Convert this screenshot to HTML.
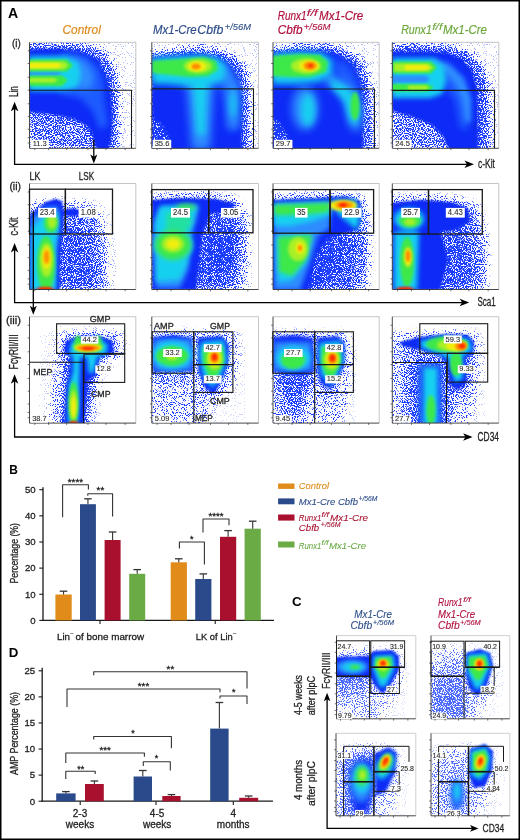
<!DOCTYPE html>
<html><head><meta charset="utf-8"><style>
html,body{margin:0;padding:0;background:#fff;}
svg{display:block;will-change:transform;}
text{font-family:"Liberation Sans", sans-serif;}
</style></head><body>
<svg width="520" height="840" viewBox="0 0 520 840">
<defs>
<clipPath id="cp0"><rect x="29.5" y="42.3" width="106.30000000000001" height="106.00000000000001"/></clipPath>
<filter id="spk" x="0" y="0" width="100%" height="100%" color-interpolation-filters="sRGB">
<feColorMatrix in="SourceGraphic" type="matrix" values="0 0 0 0 0  0 0 0 0 0  0 0 0 0 0  -1 0 0 0 1" result="dens"/>
<feTurbulence type="fractalNoise" baseFrequency="0.9" numOctaves="1" seed="7" result="n"/>
<feColorMatrix in="n" type="matrix" values="0 0 0 0 0  0 0 0 0 0  0 0 0 0 0  3.2 0 0 0 -1.1" result="na"/>
<feComposite in="dens" in2="na" operator="arithmetic" k1="0" k2="1" k3="-1" k4="0" result="diff"/>
<feComponentTransfer in="diff" result="th"><feFuncA type="linear" slope="5" intercept="0"/></feComponentTransfer>
<feFlood flood-color="#1a3cff" result="col"/>
<feComposite in="col" in2="th" operator="in"/>
</filter>
<filter id="bl0" x="-50%" y="-50%" width="200%" height="200%"><feGaussianBlur stdDeviation="3.38"/></filter>
<filter id="bl1" x="-50%" y="-50%" width="200%" height="200%"><feGaussianBlur stdDeviation="1.2"/></filter>
<filter id="bl2" x="-50%" y="-50%" width="200%" height="200%"><feGaussianBlur stdDeviation="3"/></filter>
<filter id="bl3" x="-50%" y="-50%" width="200%" height="200%"><feGaussianBlur stdDeviation="2.5"/></filter>
<filter id="bl4" x="-50%" y="-50%" width="200%" height="200%"><feGaussianBlur stdDeviation="1.5"/></filter>
<clipPath id="cp1"><rect x="151.8" y="42.3" width="106.69999999999999" height="106.00000000000001"/></clipPath>
<filter id="bl5" x="-50%" y="-50%" width="200%" height="200%"><feGaussianBlur stdDeviation="3.5"/></filter>
<filter id="bl6" x="-50%" y="-50%" width="200%" height="200%"><feGaussianBlur stdDeviation="4"/></filter>
<clipPath id="cp2"><rect x="273.0" y="42.3" width="106.19999999999999" height="106.00000000000001"/></clipPath>
<filter id="bl7" x="-50%" y="-50%" width="200%" height="200%"><feGaussianBlur stdDeviation="1.8"/></filter>
<filter id="bl8" x="-50%" y="-50%" width="200%" height="200%"><feGaussianBlur stdDeviation="1.6"/></filter>
<clipPath id="cp3"><rect x="392.3" y="42.3" width="106.5" height="106.00000000000001"/></clipPath>
<clipPath id="cp4"><rect x="29.5" y="183.5" width="106.30000000000001" height="106.0"/></clipPath>
<filter id="bl9" x="-50%" y="-50%" width="200%" height="200%"><feGaussianBlur stdDeviation="4.05"/></filter>
<filter id="bl10" x="-50%" y="-50%" width="200%" height="200%"><feGaussianBlur stdDeviation="2"/></filter>
<filter id="bl11" x="-50%" y="-50%" width="200%" height="200%"><feGaussianBlur stdDeviation="1"/></filter>
<clipPath id="cp5"><rect x="151.8" y="183.5" width="106.69999999999999" height="106.0"/></clipPath>
<clipPath id="cp6"><rect x="273.0" y="183.5" width="106.19999999999999" height="106.0"/></clipPath>
<filter id="bl12" x="-50%" y="-50%" width="200%" height="200%"><feGaussianBlur stdDeviation="1.4"/></filter>
<clipPath id="cp7"><rect x="392.3" y="183.5" width="106.5" height="106.0"/></clipPath>
<clipPath id="cp8"><rect x="29.5" y="316.7" width="106.30000000000001" height="106.40000000000003"/></clipPath>
<filter id="spkL" x="0" y="0" width="100%" height="100%" color-interpolation-filters="sRGB">
<feColorMatrix in="SourceGraphic" type="matrix" values="0 0 0 0 0  0 0 0 0 0  0 0 0 0 0  -1 0 0 0 1" result="dens"/>
<feTurbulence type="fractalNoise" baseFrequency="0.9" numOctaves="1" seed="7" result="n"/>
<feColorMatrix in="n" type="matrix" values="0 0 0 0 0  0 0 0 0 0  0 0 0 0 0  3.2 0 0 0 -1.1" result="na"/>
<feComposite in="dens" in2="na" operator="arithmetic" k1="0" k2="1" k3="-1" k4="0" result="diff"/>
<feComponentTransfer in="diff" result="th"><feFuncA type="linear" slope="5" intercept="0"/></feComponentTransfer>
<feFlood flood-color="#1a3cff" result="col"/>
<feComposite in="col" in2="th" operator="in"/>
</filter>
<filter id="bl13" x="-50%" y="-50%" width="200%" height="200%"><feGaussianBlur stdDeviation="2.7"/></filter>
<clipPath id="cp9"><rect x="151.8" y="316.7" width="106.69999999999999" height="106.40000000000003"/></clipPath>
<clipPath id="cp10"><rect x="273.0" y="316.7" width="106.19999999999999" height="106.40000000000003"/></clipPath>
<clipPath id="cp11"><rect x="392.3" y="316.7" width="106.5" height="106.40000000000003"/></clipPath>
<clipPath id="cp12"><rect x="336.5" y="635.6" width="79.30000000000001" height="83.19999999999993"/></clipPath>
<filter id="spkC" x="0" y="0" width="100%" height="100%" color-interpolation-filters="sRGB">
<feColorMatrix in="SourceGraphic" type="matrix" values="0 0 0 0 0  0 0 0 0 0  0 0 0 0 0  -1 0 0 0 1" result="dens"/>
<feTurbulence type="fractalNoise" baseFrequency="0.9" numOctaves="1" seed="7" result="n"/>
<feColorMatrix in="n" type="matrix" values="0 0 0 0 0  0 0 0 0 0  0 0 0 0 0  3.2 0 0 0 -1.1" result="na"/>
<feComposite in="dens" in2="na" operator="arithmetic" k1="0" k2="1" k3="-1" k4="0" result="diff"/>
<feComponentTransfer in="diff" result="th"><feFuncA type="linear" slope="5" intercept="0"/></feComponentTransfer>
<feFlood flood-color="#4868ff" result="col"/>
<feComposite in="col" in2="th" operator="in"/>
</filter>
<filter id="bl14" x="-50%" y="-50%" width="200%" height="200%"><feGaussianBlur stdDeviation="1.3"/></filter>
<clipPath id="cp13"><rect x="431.0" y="635.6" width="78.80000000000001" height="83.19999999999993"/></clipPath>
<clipPath id="cp14"><rect x="336.0" y="733.3" width="79.80000000000001" height="82.5"/></clipPath>
<clipPath id="cp15"><rect x="431.0" y="733.3" width="78.80000000000001" height="82.5"/></clipPath>
</defs>
<rect x="0" y="0" width="520" height="840" fill="#fff"/>
<g clip-path="url(#cp0)">
<g filter="url(#spk)">
<rect x="29.5" y="42.3" width="106.30000000000001" height="106.00000000000001" fill="#fff"/>
<g>
<rect x="29.6" y="42" width="110" height="110" fill="rgb(238,238,238)"/>
</g>
<g filter="url(#bl0)">
<polygon points="29.0,43.0 70.0,43.0 96.0,47.0 110.0,56.0 116.0,75.0 119.0,100.0 119.0,130.0 117.0,150.0 29.0,150.0" fill="rgb(92,92,92)"/>
</g>
<g filter="url(#bl0)">
<polygon points="29.0,46.0 70.0,46.0 98.0,52.0 108.0,64.0 113.0,80.0 115.0,110.0 114.0,150.0 96.0,150.0 88.0,130.0 72.0,121.0 50.0,117.0 29.0,115.0" fill="rgb(52,52,52)"/>
</g>
</g>
<g filter="url(#bl1)">
<polygon points="29.0,49.5 60.0,49.0 81.0,51.6 97.8,59.0 106.3,76.0 110.5,93.0 112.6,114.0 111.6,135.0 108.4,150.0 97.0,150.0 90.0,128.0 75.0,119.0 50.0,114.0 29.0,112.0" fill="#0b2af6"/>
</g>
<g filter="url(#bl2)">
<polygon points="62.0,52.0 85.0,56.0 98.0,66.0 104.0,82.0 104.0,100.0 108.0,125.0 100.0,130.0 92.0,110.0 80.0,98.0 60.0,94.0" fill="#1f5cff"/>
</g>
<g filter="url(#bl2)">
<polygon points="70.0,56.0 86.0,62.0 94.0,75.0 92.0,88.0 80.0,90.0 72.0,80.0" fill="#2f8cff"/>
</g>
<g filter="url(#bl3)">
<polygon points="29.0,56.0 66.0,56.0 78.0,62.0 81.0,75.0 77.0,88.0 60.0,91.0 29.0,91.0" fill="#18d0f0"/>
</g>
<g filter="url(#bl4)">
<polygon points="29.0,72.0 58.0,72.0 62.0,73.5 58.0,75.5 29.0,75.5" fill="#2f8cff"/>
</g>
<g filter="url(#bl1)">
<polygon points="29.0,59.5 67.0,59.5 73.0,65.5 67.0,71.5 29.0,71.5" fill="#3ee84a"/>
<polygon points="29.0,75.5 62.0,75.5 68.0,80.0 62.0,86.0 29.0,86.0" fill="#3ee84a"/>
</g>
<g filter="url(#bl1)">
<polygon points="29.0,61.5 64.0,61.5 69.0,65.5 64.0,69.5 29.0,69.5" fill="#a8f028"/>
</g>
<g filter="url(#bl1)">
<polygon points="29.0,63.0 58.0,63.0 62.0,65.5 58.0,68.0 29.0,68.0" fill="#f2ee10"/>
</g>
<g filter="url(#bl1)">
<polygon points="29.0,78.0 54.0,78.0 58.0,80.2 54.0,82.5 29.0,82.5" fill="#a8f028"/>
</g>
</g>
<g clip-path="url(#cp1)">
<g filter="url(#spk)">
<rect x="151.8" y="42.3" width="106.69999999999999" height="106.00000000000001" fill="#fff"/>
<g>
<rect x="151" y="42" width="110" height="110" fill="rgb(238,238,238)"/>
</g>
<g filter="url(#bl0)">
<polygon points="152.0,53.0 170.0,51.0 200.0,47.0 222.0,51.0 238.0,59.0 247.0,72.0 250.0,90.0 251.0,150.0 152.0,150.0" fill="rgb(92,92,92)"/>
</g>
<g filter="url(#bl0)">
<polygon points="152.0,56.0 170.0,54.0 200.0,51.0 222.0,55.0 236.0,63.0 244.0,76.0 246.0,92.0 247.0,150.0 152.0,150.0" fill="rgb(52,52,52)"/>
</g>
<g filter="url(#bl0)">
<polygon points="145.0,90.0 185.0,95.0 190.0,155.0 145.0,155.0" fill="rgb(16,16,16)"/>
</g>
</g>
<g filter="url(#bl4)">
<polygon points="152.0,56.5 171.0,55.5 192.3,53.0 205.0,53.5 219.8,58.0 230.4,65.4 236.7,73.8 241.0,86.5 242.0,103.5 242.0,150.0 172.0,150.0 166.0,132.0 159.0,122.0 152.0,118.0" fill="#0b2af6"/>
</g>
<g filter="url(#bl5)">
<polygon points="215.0,60.0 232.0,70.0 238.0,90.0 236.0,130.0 228.0,130.0 222.0,90.0 210.0,80.0" fill="#1f5cff"/>
</g>
<g filter="url(#bl6)">
<polygon points="186.0,80.0 214.0,80.0 210.0,150.0 192.0,150.0" fill="#2f8cff"/>
<polygon points="227.0,80.0 239.0,82.0 239.0,128.0 229.0,128.0" fill="#2f8cff"/>
<polygon points="215.0,62.0 228.0,68.0 236.0,82.0 232.0,92.0 222.0,82.0" fill="#2f8cff"/>
</g>
<g filter="url(#bl2)">
<polygon points="152.0,58.0 200.0,55.0 218.0,58.0 226.0,66.0 224.0,80.0 205.0,87.0 185.0,86.0 165.0,84.0 152.0,84.0" fill="#18d0f0"/>
<polygon points="193.0,86.0 207.0,86.0 205.0,135.0 197.0,135.0" fill="#18d0f0"/>
<ellipse cx="233" cy="104" rx="3" ry="14" fill="#18d0f0"/>
</g>
<g filter="url(#bl4)">
<polygon points="152.0,61.0 180.0,59.0 205.0,57.0 216.0,61.0 218.0,70.0 208.0,76.0 190.0,77.0 170.0,75.0 152.0,73.0" fill="#3ee84a"/>
</g>
<g filter="url(#bl4)">
<ellipse cx="198" cy="66.3" rx="14" ry="7" fill="#a8f028"/>
</g>
<g filter="url(#bl1)">
<ellipse cx="197" cy="66.4" rx="9" ry="5" fill="#f2ee10"/>
</g>
<g filter="url(#bl1)">
<ellipse cx="196" cy="66.4" rx="4.5" ry="3" fill="#ff8c00"/>
</g>
</g>
<g clip-path="url(#cp2)">
<g filter="url(#spk)">
<rect x="273.0" y="42.3" width="106.19999999999999" height="106.00000000000001" fill="#fff"/>
<g>
<rect x="272.8" y="42" width="110" height="110" fill="rgb(238,238,238)"/>
</g>
<g filter="url(#bl0)">
<polygon points="272.0,49.0 300.0,46.0 325.0,45.0 345.0,49.0 362.0,60.0 370.0,80.0 373.0,110.0 373.0,150.0 272.0,150.0" fill="rgb(92,92,92)"/>
</g>
<g filter="url(#bl0)">
<polygon points="272.0,51.0 300.0,49.0 325.0,48.0 342.0,52.0 358.0,62.0 366.0,82.0 368.0,110.0 368.0,150.0 272.0,150.0" fill="rgb(52,52,52)"/>
</g>
<g filter="url(#bl0)">
<polygon points="265.0,85.0 310.0,95.0 315.0,155.0 265.0,155.0" fill="rgb(16,16,16)"/>
</g>
</g>
<g filter="url(#bl4)">
<polygon points="272.0,52.7 301.7,50.6 322.9,50.6 339.8,54.8 354.6,65.4 361.0,82.3 363.0,103.5 363.0,150.0 292.0,150.0 286.0,134.0 279.0,122.0 272.0,118.0" fill="#0b2af6"/>
</g>
<g filter="url(#bl6)">
<polygon points="330.0,60.0 345.0,62.0 355.0,75.0 360.0,95.0 352.0,100.0 340.0,80.0" fill="#1f5cff"/>
</g>
<g filter="url(#bl6)">
<ellipse cx="305" cy="108" rx="13" ry="22" fill="#2f8cff"/>
<polygon points="325.0,72.0 340.0,78.0 355.0,90.0 362.0,110.0 360.0,132.0 350.0,128.0 346.0,105.0 335.0,88.0 322.0,82.0" fill="#2f8cff"/>
</g>
<g filter="url(#bl2)">
<polygon points="272.0,54.0 300.0,52.0 322.0,53.0 332.0,60.0 332.0,74.0 318.0,82.0 295.0,84.0 272.0,84.0" fill="#18d0f0"/>
<ellipse cx="308" cy="110" rx="7" ry="16" fill="#18d0f0"/>
<polygon points="330.0,78.0 345.0,86.0 356.0,96.0 360.0,112.0 356.0,126.0 349.0,120.0 344.0,100.0 332.0,88.0" fill="#18d0f0"/>
</g>
<g filter="url(#bl7)">
<polygon points="272.0,56.0 300.0,54.0 320.0,55.0 328.0,62.0 326.0,72.0 310.0,77.0 290.0,77.0 272.0,76.0" fill="#3ee84a"/>
<ellipse cx="355" cy="106" rx="4.5" ry="14" fill="#3ee84a"/>
</g>
<g filter="url(#bl8)">
<ellipse cx="306" cy="66" rx="15" ry="7.5" fill="#a8f028"/>
</g>
<g filter="url(#bl4)">
<ellipse cx="309" cy="65.8" rx="10" ry="5.5" fill="#f2ee10"/>
</g>
<g filter="url(#bl1)">
<ellipse cx="310" cy="65.8" rx="6.5" ry="4.2" fill="#ff8c00"/>
</g>
<g filter="url(#bl1)">
<ellipse cx="310.5" cy="65.8" rx="2.6" ry="1.8" fill="#ff2800"/>
</g>
</g>
<g clip-path="url(#cp3)">
<g filter="url(#spk)">
<rect x="392.3" y="42.3" width="106.5" height="106.00000000000001" fill="#fff"/>
<g>
<rect x="392.6" y="42" width="110" height="110" fill="rgb(238,238,238)"/>
</g>
<g filter="url(#bl0)">
<polygon points="392.0,45.0 420.0,44.0 450.0,46.0 470.0,52.0 482.0,65.0 489.0,85.0 491.0,110.0 491.0,150.0 392.0,150.0" fill="rgb(92,92,92)"/>
</g>
<g filter="url(#bl0)">
<polygon points="392.0,48.0 420.0,47.0 450.0,49.0 468.0,55.0 478.0,68.0 484.0,86.0 485.0,110.0 485.0,150.0 450.0,150.0 440.0,132.0 428.0,122.0 410.0,114.0 392.0,110.0" fill="rgb(52,52,52)"/>
</g>
</g>
<g filter="url(#bl1)">
<polygon points="392.0,51.6 421.7,51.6 447.0,52.7 462.0,59.0 472.5,71.7 476.7,86.5 477.8,103.5 477.8,150.0 449.0,150.0 443.0,136.0 432.3,125.0 411.0,116.0 392.0,111.0" fill="#0b2af6"/>
</g>
<g filter="url(#bl5)">
<polygon points="440.0,70.0 458.0,78.0 468.0,100.0 468.0,130.0 460.0,128.0 455.0,100.0 445.0,88.0 436.0,84.0" fill="#1f5cff"/>
</g>
<g filter="url(#bl3)">
<polygon points="432.0,58.0 450.0,64.0 464.0,78.0 471.0,98.0 471.0,122.0 465.0,122.0 462.0,100.0 455.0,84.0 443.0,72.0 432.0,68.0" fill="#2f8cff"/>
</g>
<g filter="url(#bl3)">
<polygon points="392.0,58.0 432.0,58.0 444.0,66.0 446.0,80.0 442.0,94.0 430.0,98.0 392.0,98.0" fill="#18d0f0"/>
</g>
<g filter="url(#bl7)">
<polygon points="392.0,75.5 426.0,75.5 430.0,79.0 426.0,82.5 392.0,82.5" fill="#2f8cff"/>
</g>
<g filter="url(#bl1)">
<polygon points="392.0,61.5 431.0,61.5 437.0,67.5 431.0,73.5 392.0,73.5" fill="#3ee84a"/>
<polygon points="392.0,84.0 428.0,84.0 434.0,87.6 428.0,91.5 392.0,91.5" fill="#3ee84a"/>
</g>
<g filter="url(#bl1)">
<polygon points="394.0,63.5 428.0,63.5 434.0,67.5 428.0,71.5 394.0,71.5" fill="#a8f028"/>
</g>
<g filter="url(#bl1)">
<polygon points="405.0,65.0 426.0,65.0 430.0,67.5 426.0,70.0 405.0,70.0" fill="#f2ee10"/>
</g>
<g filter="url(#bl1)">
<polygon points="408.0,85.5 426.0,85.5 429.0,87.6 426.0,89.8 408.0,89.8" fill="#a8f028"/>
</g>
</g>
<g clip-path="url(#cp4)">
<g filter="url(#spk)">
<rect x="29.5" y="183.5" width="106.30000000000001" height="106.0" fill="#fff"/>
<g>
<polygon points="29.0,200.0 60.0,196.0 100.0,200.0 112.0,215.0 116.0,250.0 116.0,290.0 29.0,290.0" fill="rgb(238,238,238)"/>
</g>
<g filter="url(#bl9)">
<polygon points="36.0,204.0 85.0,205.0 98.0,214.0 104.0,240.0 106.0,290.0 29.0,290.0 29.0,210.0" fill="rgb(92,92,92)"/>
</g>
<g filter="url(#bl9)">
<polygon points="60.0,222.0 78.0,226.0 88.0,245.0 94.0,270.0 96.0,290.0 60.0,290.0" fill="rgb(52,52,52)"/>
</g>
</g>
<g filter="url(#bl1)">
<polygon points="29.0,216.0 36.0,210.0 46.0,202.0 55.0,199.0 62.0,201.0 64.0,215.0 62.0,235.0 60.0,260.0 60.0,290.0 29.0,290.0" fill="#0b2af6"/>
<ellipse cx="72" cy="212.5" rx="9" ry="4" fill="#0b2af6"/>
</g>
<g filter="url(#bl10)">
<polygon points="31.0,218.0 46.0,207.0 58.0,206.0 60.0,222.0 57.0,245.0 56.0,290.0 31.0,290.0" fill="#2f8cff"/>
</g>
<g filter="url(#bl10)">
<polygon points="32.0,228.0 45.0,214.0 58.0,212.0 58.0,232.0 55.0,250.0 55.0,290.0 32.0,290.0" fill="#18d0f0"/>
</g>
<g filter="url(#bl7)">
<ellipse cx="51" cy="223" rx="7" ry="10" fill="#3ee84a"/>
<ellipse cx="46" cy="264" rx="9" ry="28" fill="#3ee84a"/>
</g>
<g filter="url(#bl8)">
<ellipse cx="52" cy="222" rx="4.5" ry="6.5" fill="#a8f028"/>
<ellipse cx="46.5" cy="260" rx="6.5" ry="17" fill="#a8f028"/>
</g>
<g filter="url(#bl4)">
<ellipse cx="46.6" cy="258" rx="4.5" ry="11" fill="#f2ee10"/>
</g>
<g filter="url(#bl4)">
<ellipse cx="46.6" cy="257" rx="2.8" ry="7" fill="#ff8c00"/>
</g>
<g filter="url(#bl11)">
<ellipse cx="45" cy="289" rx="9" ry="2.2" fill="#ff2800"/>
</g>
</g>
<g clip-path="url(#cp5)">
<g filter="url(#spk)">
<rect x="151.8" y="183.5" width="106.69999999999999" height="106.0" fill="#fff"/>
<g>
<polygon points="152.0,194.0 200.0,192.0 240.0,196.0 252.0,215.0 252.0,290.0 152.0,290.0" fill="rgb(238,238,238)"/>
</g>
<g filter="url(#bl9)">
<polygon points="152.0,197.0 200.0,195.0 235.0,199.0 245.0,220.0 246.0,250.0 242.0,290.0 152.0,290.0" fill="rgb(92,92,92)"/>
</g>
<g filter="url(#bl9)">
<polygon points="185.0,212.0 230.0,214.0 238.0,240.0 234.0,262.0 228.0,290.0 185.0,290.0" fill="rgb(52,52,52)"/>
</g>
<g filter="url(#bl0)">
<polygon points="205.0,238.0 232.0,236.0 236.0,262.0 220.0,270.0 205.0,262.0" fill="rgb(16,16,16)"/>
</g>
</g>
<g filter="url(#bl1)">
<polygon points="152.0,200.0 180.0,198.0 215.0,199.0 236.0,204.0 228.0,212.0 210.0,214.0 202.0,235.0 196.0,290.0 152.0,290.0" fill="#0b2af6"/>
</g>
<g filter="url(#bl3)">
<polygon points="160.0,208.0 198.0,206.0 196.0,220.0 190.0,240.0 188.0,270.0 180.0,288.0 156.0,288.0 154.0,225.0" fill="#2f8cff"/>
</g>
<g filter="url(#bl3)">
<polygon points="160.0,206.0 198.0,205.0 194.0,218.0 190.0,232.0 188.0,262.0 180.0,280.0 156.0,282.0 155.0,222.0" fill="#18d0f0"/>
<ellipse cx="173" cy="245" rx="20" ry="18" fill="#18d0f0"/>
</g>
<g filter="url(#bl3)">
<polygon points="166.0,213.0 188.0,209.0 192.0,222.0 186.0,232.0 166.0,232.0" fill="#20e0a0"/>
</g>
<g filter="url(#bl3)">
<ellipse cx="186" cy="207" rx="10" ry="3" fill="#3ee84a"/>
<ellipse cx="173" cy="245" rx="18" ry="15" fill="#3ee84a"/>
</g>
<g filter="url(#bl7)">
<ellipse cx="173" cy="244" rx="11" ry="8.5" fill="#a8f028"/>
</g>
<g filter="url(#bl4)">
<ellipse cx="173" cy="244" rx="6.5" ry="5" fill="#f2ee10"/>
</g>
</g>
<g clip-path="url(#cp6)">
<g filter="url(#spk)">
<rect x="273.0" y="183.5" width="106.19999999999999" height="106.0" fill="#fff"/>
<g>
<polygon points="272.0,195.0 330.0,192.0 365.0,196.0 372.0,215.0 372.0,290.0 272.0,290.0" fill="rgb(238,238,238)"/>
</g>
<g filter="url(#bl9)">
<polygon points="272.0,197.0 330.0,195.0 362.0,198.0 368.0,225.0 368.0,260.0 364.0,290.0 272.0,290.0" fill="rgb(92,92,92)"/>
</g>
<g filter="url(#bl9)">
<polygon points="300.0,230.0 345.0,228.0 356.0,245.0 354.0,290.0 300.0,290.0" fill="rgb(52,52,52)"/>
</g>
<g filter="url(#bl0)">
<polygon points="305.0,232.0 340.0,232.0 338.0,260.0 320.0,290.0 305.0,290.0" fill="rgb(16,16,16)"/>
</g>
</g>
<g filter="url(#bl1)">
<polygon points="272.0,200.0 320.0,198.0 345.0,196.0 360.0,201.0 362.0,215.0 358.0,230.0 345.0,233.0 328.0,238.0 316.0,255.0 308.0,290.0 272.0,290.0" fill="#0b2af6"/>
</g>
<g filter="url(#bl3)">
<polygon points="274.0,204.0 330.0,202.0 330.0,228.0 318.0,236.0 310.0,262.0 300.0,290.0 274.0,290.0" fill="#2f8cff"/>
</g>
<g filter="url(#bl3)">
<polygon points="274.0,204.0 330.0,202.0 331.0,215.0 310.0,222.0 290.0,226.0 274.0,226.0" fill="#18d0f0"/>
<polygon points="276.0,236.0 312.0,234.0 306.0,262.0 292.0,280.0 278.0,282.0" fill="#18d0f0"/>
<polygon points="332.0,200.0 356.0,200.0 360.0,215.0 357.0,230.0 350.0,224.0 338.0,214.0" fill="#18d0f0"/>
</g>
<g filter="url(#bl10)">
<polygon points="274.0,205.0 330.0,203.0 329.0,212.0 300.0,215.0 274.0,215.0" fill="#3ee84a"/>
<polygon points="278.0,237.0 312.0,235.0 306.0,260.0 292.0,276.0 279.0,272.0" fill="#3ee84a"/>
</g>
<g filter="url(#bl7)">
<ellipse cx="298" cy="249" rx="10" ry="12" fill="#a8f028"/>
</g>
<g filter="url(#bl4)">
<ellipse cx="300" cy="248" rx="4.5" ry="6" fill="#f2ee10"/>
</g>
<g filter="url(#bl1)">
<ellipse cx="300" cy="248" rx="2.2" ry="3" fill="#ff8c00"/>
</g>
<g filter="url(#bl7)">
<ellipse cx="343" cy="205.5" rx="14" ry="5.5" fill="#f2ee10"/>
</g>
<g filter="url(#bl12)">
<ellipse cx="344" cy="205" rx="9" ry="3.6" fill="#ff8c00"/>
</g>
<g filter="url(#bl1)">
<ellipse cx="343" cy="205" rx="4" ry="2" fill="#ff2800"/>
</g>
</g>
<g clip-path="url(#cp7)">
<g filter="url(#spk)">
<rect x="392.3" y="183.5" width="106.5" height="106.0" fill="#fff"/>
<g>
<polygon points="392.0,196.0 450.0,194.0 480.0,200.0 490.0,225.0 490.0,290.0 392.0,290.0" fill="rgb(238,238,238)"/>
</g>
<g filter="url(#bl9)">
<polygon points="392.0,198.0 450.0,198.0 475.0,205.0 482.0,230.0 486.0,260.0 484.0,290.0 392.0,290.0" fill="rgb(92,92,92)"/>
</g>
<g filter="url(#bl9)">
<polygon points="420.0,225.0 460.0,228.0 470.0,250.0 470.0,290.0 420.0,290.0" fill="rgb(52,52,52)"/>
</g>
</g>
<g filter="url(#bl1)">
<polygon points="392.0,203.0 420.0,200.0 450.0,202.0 468.0,208.0 470.0,222.0 455.0,230.0 438.0,232.0 430.0,250.0 425.0,290.0 392.0,290.0" fill="#0b2af6"/>
<polygon points="415.0,230.0 440.0,230.0 448.0,260.0 440.0,290.0 415.0,290.0" fill="#0b2af6"/>
</g>
<g filter="url(#bl3)">
<ellipse cx="409" cy="219" rx="15" ry="11" fill="#18d0f0"/>
<polygon points="394.0,232.0 419.0,232.0 418.0,260.0 417.0,290.0 394.0,290.0" fill="#18d0f0"/>
</g>
<g filter="url(#bl7)">
<ellipse cx="410" cy="221" rx="11" ry="6.5" fill="#3ee84a"/>
<ellipse cx="407" cy="262" rx="7" ry="25" fill="#3ee84a"/>
</g>
<g filter="url(#bl8)">
<ellipse cx="410" cy="222" rx="6" ry="3.5" fill="#a8f028"/>
</g>
<g filter="url(#bl4)">
<ellipse cx="408" cy="257" rx="4" ry="10" fill="#f2ee10"/>
</g>
<g filter="url(#bl1)">
<ellipse cx="408" cy="256" rx="2.5" ry="6" fill="#ff8c00"/>
</g>
<g filter="url(#bl11)">
<ellipse cx="405" cy="289" rx="9" ry="2.2" fill="#ff2800"/>
</g>
</g>
<g clip-path="url(#cp8)">
<g filter="url(#spkL)">
<rect x="29.5" y="316.7" width="106.30000000000001" height="106.40000000000003" fill="#fff"/>
<g>
<polygon points="40.0,335.0 60.0,326.0 122.0,326.0 130.0,345.0 120.0,362.0 104.0,380.0 100.0,424.0 36.0,424.0 40.0,380.0" fill="rgb(244,244,244)"/>
</g>
<g filter="url(#bl9)">
<polygon points="58.0,334.0 120.0,332.0 122.0,356.0 102.0,362.0 95.0,380.0 90.0,424.0 50.0,424.0 54.0,380.0 56.0,360.0" fill="rgb(165,165,165)"/>
</g>
<g filter="url(#bl0)">
<polygon points="62.0,337.0 116.0,337.0 118.0,355.0 100.0,360.0 96.0,380.0 90.0,424.0 58.0,424.0 62.0,365.0" fill="rgb(118,118,118)"/>
</g>
<g filter="url(#bl13)">
<polygon points="66.0,340.0 110.0,340.0 112.0,354.0 98.0,358.0 92.0,378.0 86.0,424.0 62.0,424.0 64.0,365.0" fill="rgb(66,66,66)"/>
</g>
</g>
<g filter="url(#bl1)">
<polygon points="66.0,341.0 80.0,336.0 100.0,336.0 112.0,341.0 114.0,352.0 100.0,357.0 96.0,376.0 88.0,380.0 84.0,424.0 64.0,424.0 66.0,385.0 70.0,370.0 70.0,356.0 64.0,352.0" fill="#0b2af6"/>
</g>
<g filter="url(#bl10)">
<polygon points="72.0,341.0 100.0,339.0 108.0,345.0 106.0,354.0 97.0,357.0 94.0,372.0 89.0,374.0 87.0,357.0 80.0,357.0 78.0,424.0 68.0,424.0 69.0,385.0 73.0,372.0 73.0,357.0 69.0,352.0" fill="#18d0f0"/>
</g>
<g filter="url(#bl8)">
<ellipse cx="88" cy="346" rx="15" ry="6" fill="#3ee84a"/>
<ellipse cx="78" cy="341" rx="3.5" ry="5.5" fill="#3ee84a"/>
<ellipse cx="98" cy="341" rx="3.5" ry="5.5" fill="#3ee84a"/>
<ellipse cx="73.5" cy="403" rx="5" ry="21" fill="#3ee84a"/>
</g>
<g filter="url(#bl12)">
<ellipse cx="88" cy="347.5" rx="14" ry="4.5" fill="#a8f028"/>
<ellipse cx="73.5" cy="405" rx="3.5" ry="15" fill="#a8f028"/>
</g>
<g filter="url(#bl12)">
<ellipse cx="88" cy="347.8" rx="13" ry="3.5" fill="#f2ee10"/>
<ellipse cx="73.5" cy="407" rx="2.5" ry="11" fill="#f2ee10"/>
</g>
<g filter="url(#bl1)">
<ellipse cx="88" cy="348" rx="11.5" ry="2.8" fill="#ff8c00"/>
</g>
<g filter="url(#bl11)">
<ellipse cx="88" cy="348.5" rx="6" ry="1.6" fill="#ff2800"/>
<ellipse cx="73.5" cy="423" rx="5" ry="2" fill="#ff2800"/>
</g>
</g>
<g clip-path="url(#cp9)">
<g filter="url(#spkL)">
<rect x="151.8" y="316.7" width="106.69999999999999" height="106.40000000000003" fill="#fff"/>
<g>
<polygon points="152.0,330.0 240.0,328.0 245.0,345.0 245.0,424.0 152.0,424.0" fill="rgb(244,244,244)"/>
</g>
<g filter="url(#bl9)">
<polygon points="152.0,333.0 236.0,333.0 238.0,360.0 232.0,385.0 215.0,395.0 205.0,424.0 152.0,424.0" fill="rgb(165,165,165)"/>
</g>
<g filter="url(#bl9)">
<polygon points="152.0,334.0 194.0,334.0 194.0,380.0 152.0,385.0" fill="rgb(118,118,118)"/>
<polygon points="196.0,336.0 230.0,336.0 232.0,365.0 222.0,392.0 212.0,402.0 200.0,395.0" fill="rgb(118,118,118)"/>
</g>
</g>
<g filter="url(#bl1)">
<polygon points="153.0,337.0 175.0,335.0 192.0,338.0 193.0,371.0 153.0,372.0" fill="#0b2af6"/>
<polygon points="198.0,338.0 222.0,336.0 229.0,345.0 228.0,365.0 220.0,384.0 214.0,394.0 205.0,388.0 198.0,370.0" fill="#0b2af6"/>
</g>
<g filter="url(#bl3)">
<polygon points="154.0,339.0 192.0,339.0 192.0,370.0 154.0,371.0" fill="#2f8cff"/>
</g>
<g filter="url(#bl3)">
<ellipse cx="172" cy="355" rx="20" ry="14" fill="#18d0f0"/>
<polygon points="201.0,342.0 224.0,340.0 227.0,360.0 219.0,380.0 212.0,388.0 203.0,375.0 199.0,355.0" fill="#18d0f0"/>
</g>
<g filter="url(#bl7)">
<ellipse cx="172" cy="356" rx="16" ry="10" fill="#3ee84a"/>
<polygon points="203.0,348.0 223.0,346.0 224.0,362.0 216.0,378.0 209.0,377.0 203.0,362.0" fill="#3ee84a"/>
</g>
<g filter="url(#bl7)">
<ellipse cx="172" cy="356" rx="6" ry="4.5" fill="#a8f028"/>
<ellipse cx="214.5" cy="359" rx="8" ry="11" fill="#a8f028"/>
</g>
<g filter="url(#bl12)">
<ellipse cx="214.5" cy="358" rx="6" ry="8" fill="#f2ee10"/>
</g>
<g filter="url(#bl1)">
<ellipse cx="214.5" cy="357.5" rx="4.5" ry="5.5" fill="#ff8c00"/>
</g>
<g filter="url(#bl11)">
<ellipse cx="214.5" cy="357" rx="2.5" ry="3.5" fill="#ff2800"/>
</g>
</g>
<g clip-path="url(#cp10)">
<g filter="url(#spkL)">
<rect x="273.0" y="316.7" width="106.19999999999999" height="106.40000000000003" fill="#fff"/>
<g>
<polygon points="272.0,332.0 350.0,332.0 356.0,345.0 356.0,424.0 272.0,424.0" fill="rgb(244,244,244)"/>
</g>
<g filter="url(#bl9)">
<polygon points="272.0,334.0 348.0,334.0 352.0,360.0 346.0,400.0 340.0,424.0 272.0,424.0" fill="rgb(165,165,165)"/>
</g>
<g filter="url(#bl9)">
<polygon points="272.0,335.0 314.0,335.0 316.0,380.0 306.0,400.0 300.0,422.0 280.0,422.0 274.0,395.0" fill="rgb(118,118,118)"/>
<polygon points="316.0,336.0 343.0,336.0 347.0,360.0 338.0,385.0 330.0,398.0 318.0,390.0" fill="rgb(118,118,118)"/>
</g>
<g filter="url(#bl0)">
<polygon points="274.0,370.0 312.0,370.0 305.0,392.0 296.0,416.0 286.0,400.0 278.0,385.0" fill="rgb(66,66,66)"/>
</g>
</g>
<g filter="url(#bl4)">
<polygon points="273.0,337.0 295.0,335.0 313.0,338.0 314.0,372.0 300.0,376.0 288.0,375.0 273.0,371.0" fill="#0b2af6"/>
<polygon points="317.0,338.0 338.0,336.0 345.0,345.0 344.0,365.0 337.0,381.0 330.0,389.0 321.0,384.0 317.0,370.0" fill="#0b2af6"/>
</g>
<g filter="url(#bl3)">
<polygon points="274.0,342.0 311.0,342.0 312.0,371.0 274.0,371.0" fill="#2f8cff"/>
</g>
<g filter="url(#bl3)">
<ellipse cx="293" cy="358" rx="17" ry="12" fill="#18d0f0"/>
<polygon points="319.0,343.0 341.0,341.0 343.0,360.0 336.0,378.0 330.0,385.0 321.0,374.0 319.0,355.0" fill="#18d0f0"/>
</g>
<g filter="url(#bl7)">
<ellipse cx="293" cy="360" rx="12" ry="9" fill="#3ee84a"/>
<polygon points="322.0,347.0 340.0,346.0 341.0,362.0 334.0,376.0 326.0,376.0 321.0,362.0" fill="#3ee84a"/>
</g>
<g filter="url(#bl8)">
<ellipse cx="331.5" cy="360" rx="8" ry="10" fill="#a8f028"/>
</g>
<g filter="url(#bl12)">
<ellipse cx="332" cy="359" rx="6" ry="7.5" fill="#f2ee10"/>
</g>
<g filter="url(#bl1)">
<ellipse cx="332.4" cy="358.4" rx="4.5" ry="5.5" fill="#ff8c00"/>
</g>
<g filter="url(#bl11)">
<ellipse cx="332.4" cy="358" rx="2.5" ry="3.5" fill="#ff2800"/>
</g>
</g>
<g clip-path="url(#cp11)">
<g filter="url(#spkL)">
<rect x="392.3" y="316.7" width="106.5" height="106.40000000000003" fill="#fff"/>
<g>
<polygon points="392.0,330.0 480.0,328.0 485.0,345.0 485.0,424.0 392.0,424.0" fill="rgb(244,244,244)"/>
</g>
<g filter="url(#bl9)">
<polygon points="392.0,334.0 478.0,333.0 480.0,360.0 475.0,400.0 470.0,424.0 392.0,424.0" fill="rgb(165,165,165)"/>
</g>
<g filter="url(#bl9)">
<polygon points="398.0,342.0 470.0,336.0 474.0,360.0 468.0,390.0 455.0,400.0 452.0,424.0 402.0,424.0 400.0,370.0" fill="rgb(118,118,118)"/>
</g>
<g filter="url(#bl0)">
<polygon points="410.0,358.0 448.0,358.0 449.0,424.0 410.0,424.0" fill="rgb(66,66,66)"/>
<polygon points="446.0,355.0 470.0,352.0 468.0,385.0 452.0,392.0" fill="rgb(66,66,66)"/>
</g>
</g>
<g filter="url(#bl1)">
<polygon points="400.0,342.0 420.0,337.0 445.0,334.0 468.0,335.0 474.0,342.0 473.0,354.0 465.0,359.0 467.0,382.0 458.0,390.0 450.0,385.0 447.0,364.0 440.0,356.0 420.0,350.0 402.0,346.0" fill="#0b2af6"/>
</g>
<g filter="url(#bl10)">
<polygon points="418.0,364.0 442.0,364.0 442.0,424.0 418.0,424.0" fill="#1f5cff"/>
</g>
<g filter="url(#bl10)">
<polygon points="420.0,341.0 445.0,337.0 469.0,339.0 472.0,350.0 462.0,357.0 463.0,378.0 455.0,383.0 450.0,360.0 440.0,354.0 422.0,348.0" fill="#18d0f0"/>
<polygon points="424.0,368.0 437.0,368.0 437.0,424.0 424.0,424.0" fill="#18d0f0"/>
</g>
<g filter="url(#bl8)">
<ellipse cx="447" cy="344" rx="21" ry="7.5" fill="#3ee84a"/>
<ellipse cx="456" cy="364" rx="6" ry="12" fill="#3ee84a"/>
<ellipse cx="431" cy="410" rx="4.5" ry="15" fill="#3ee84a"/>
</g>
<g filter="url(#bl4)">
<ellipse cx="452" cy="345" rx="15" ry="6" fill="#a8f028"/>
</g>
<g filter="url(#bl12)">
<ellipse cx="456" cy="346" rx="10" ry="5" fill="#f2ee10"/>
</g>
<g filter="url(#bl1)">
<ellipse cx="461" cy="346" rx="6" ry="4.5" fill="#ff8c00"/>
</g>
<g filter="url(#bl11)">
<ellipse cx="462" cy="346" rx="3" ry="2.5" fill="#ff2800"/>
</g>
</g>
<g clip-path="url(#cp12)">
<g filter="url(#spkC)">
<rect x="336.5" y="635.6" width="79.30000000000001" height="83.19999999999993" fill="#fff"/>
<g>
<polygon points="336.0,648.0 360.0,645.0 405.0,648.0 410.0,670.0 405.0,718.0 336.0,718.0" fill="rgb(244,244,244)"/>
</g>
<g filter="url(#bl9)">
<polygon points="336.0,654.0 370.0,650.0 398.0,652.0 402.0,680.0 392.0,698.0 382.0,718.0 336.0,718.0" fill="rgb(165,165,165)"/>
</g>
<g filter="url(#bl9)">
<polygon points="336.0,656.0 372.0,654.0 372.0,688.0 360.0,700.0 336.0,702.0" fill="rgb(118,118,118)"/>
</g>
<g filter="url(#bl0)">
<polygon points="336.0,676.0 369.0,676.0 366.0,688.0 336.0,690.0" fill="rgb(66,66,66)"/>
</g>
</g>
<g filter="url(#bl1)">
<polygon points="336.0,657.0 368.0,656.0 374.0,651.0 392.0,650.0 399.0,656.0 399.0,670.0 390.0,686.0 382.0,694.0 375.0,686.0 370.0,677.0 336.0,677.0" fill="#0b2af6"/>
</g>
<g filter="url(#bl10)">
<ellipse cx="352" cy="667" rx="16" ry="7" fill="#2f8cff"/>
</g>
<g filter="url(#bl10)">
<ellipse cx="353" cy="667" rx="11" ry="4.5" fill="#18d0f0"/>
<polygon points="374.0,656.0 393.0,655.0 395.0,667.0 386.0,686.0 380.0,687.0 373.0,668.0" fill="#18d0f0"/>
</g>
<g filter="url(#bl4)">
<ellipse cx="355" cy="667" rx="5" ry="2.2" fill="#3ee84a"/>
<polygon points="376.0,658.0 391.0,657.0 392.0,666.0 385.0,678.0 381.0,678.0 375.0,667.0" fill="#3ee84a"/>
</g>
<g filter="url(#bl4)">
<ellipse cx="383" cy="665" rx="6.5" ry="6" fill="#a8f028"/>
</g>
<g filter="url(#bl14)">
<ellipse cx="383" cy="664.3" rx="5" ry="4.5" fill="#f2ee10"/>
</g>
<g filter="url(#bl1)">
<ellipse cx="383" cy="663.5" rx="3.8" ry="3.4" fill="#ff8c00"/>
</g>
<g filter="url(#bl11)">
<ellipse cx="383" cy="663.2" rx="2.2" ry="2.2" fill="#ff2800"/>
</g>
</g>
<g clip-path="url(#cp13)">
<g filter="url(#spkC)">
<rect x="431.0" y="635.6" width="78.80000000000001" height="83.19999999999993" fill="#fff"/>
<g>
<polygon points="431.0,645.0 470.0,642.0 500.0,648.0 505.0,680.0 500.0,718.0 431.0,718.0" fill="rgb(244,244,244)"/>
</g>
<g filter="url(#bl9)">
<polygon points="431.0,650.0 466.0,650.0 490.0,656.0 492.0,690.0 484.0,705.0 474.0,718.0 431.0,718.0" fill="rgb(165,165,165)"/>
</g>
<g filter="url(#bl9)">
<polygon points="431.0,672.0 450.0,662.0 466.0,656.0 468.0,718.0 431.0,718.0" fill="rgb(118,118,118)"/>
</g>
<g filter="url(#bl0)">
<polygon points="432.0,680.0 464.0,676.0 466.0,718.0 432.0,718.0" fill="rgb(66,66,66)"/>
</g>
</g>
<g filter="url(#bl1)">
<polygon points="466.0,653.0 480.0,649.0 490.0,653.0 493.0,665.0 486.0,688.0 477.0,696.0 469.0,688.0 466.0,675.0" fill="#0b2af6"/>
</g>
<g filter="url(#bl10)">
<polygon points="467.0,655.0 487.0,653.0 490.0,666.0 482.0,686.0 476.0,690.0 468.0,674.0" fill="#18d0f0"/>
</g>
<g filter="url(#bl4)">
<polygon points="469.0,657.0 485.0,656.0 488.0,666.0 480.0,680.0 476.0,680.0 469.0,669.0" fill="#3ee84a"/>
</g>
<g filter="url(#bl14)">
<ellipse cx="479.2" cy="664.5" rx="5" ry="6" fill="#f2ee10"/>
</g>
<g filter="url(#bl1)">
<ellipse cx="479.5" cy="664" rx="3.5" ry="4.5" fill="#ff8c00"/>
</g>
<g filter="url(#bl11)">
<ellipse cx="479.5" cy="663.8" rx="2" ry="2.8" fill="#ff2800"/>
</g>
</g>
<g clip-path="url(#cp14)">
<g filter="url(#spkC)">
<rect x="336.0" y="733.3" width="79.80000000000001" height="82.5" fill="#fff"/>
<g>
<polygon points="336.0,745.0 370.0,742.0 405.0,748.0 410.0,780.0 405.0,815.0 336.0,815.0" fill="rgb(244,244,244)"/>
</g>
<g filter="url(#bl9)">
<polygon points="336.0,752.0 365.0,746.0 395.0,748.0 400.0,775.0 394.0,800.0 388.0,815.0 336.0,815.0" fill="rgb(165,165,165)"/>
</g>
<g filter="url(#bl9)">
<polygon points="338.0,762.0 352.0,752.0 374.0,752.0 376.0,790.0 370.0,815.0 340.0,815.0" fill="rgb(118,118,118)"/>
</g>
<g filter="url(#bl0)">
<polygon points="342.0,762.0 356.0,752.0 373.0,752.0 376.0,790.0 370.0,815.0 344.0,815.0" fill="rgb(66,66,66)"/>
</g>
</g>
<g filter="url(#bl3)">
<polygon points="350.0,768.0 358.0,760.0 372.0,760.0 374.0,785.0 368.0,812.0 354.0,812.0 350.0,790.0" fill="#0b2af6"/>
</g>
<g filter="url(#bl4)">
<polygon points="374.0,754.0 389.0,747.0 397.0,753.0 395.0,773.0 386.0,791.0 376.0,796.0" fill="#0b2af6"/>
</g>
<g filter="url(#bl2)">
<ellipse cx="361" cy="782" rx="11" ry="20" fill="#2f8cff"/>
</g>
<g filter="url(#bl3)">
<ellipse cx="362" cy="779" rx="8.5" ry="14" fill="#18d0f0"/>
<ellipse cx="385" cy="766" rx="7.5" ry="14" fill="#18d0f0" transform="rotate(25 385 766)"/>
</g>
<g filter="url(#bl10)">
<ellipse cx="362" cy="776" rx="6.5" ry="10" fill="#3ee84a"/>
<ellipse cx="385" cy="764" rx="5.5" ry="10" fill="#3ee84a" transform="rotate(25 385 764)"/>
</g>
<g filter="url(#bl7)">
<ellipse cx="362.4" cy="775" rx="3.5" ry="5" fill="#a8f028"/>
</g>
<g filter="url(#bl12)">
<ellipse cx="385.3" cy="762" rx="4.5" ry="8" fill="#f2ee10" transform="rotate(28 385.3 762)"/>
</g>
<g filter="url(#bl1)">
<ellipse cx="385.3" cy="761.9" rx="3.2" ry="6" fill="#ff8c00" transform="rotate(28 385.3 761.9)"/>
</g>
<g filter="url(#bl11)">
<ellipse cx="385.5" cy="761" rx="1.6" ry="3.5" fill="#ff2800" transform="rotate(28 385.5 761)"/>
</g>
</g>
<g clip-path="url(#cp15)">
<g filter="url(#spkC)">
<rect x="431.0" y="733.3" width="78.80000000000001" height="82.5" fill="#fff"/>
<g>
<polygon points="431.0,745.0 470.0,742.0 500.0,748.0 505.0,780.0 500.0,815.0 431.0,815.0" fill="rgb(244,244,244)"/>
</g>
<g filter="url(#bl9)">
<polygon points="431.0,754.0 465.0,748.0 490.0,750.0 494.0,775.0 486.0,800.0 476.0,815.0 431.0,815.0" fill="rgb(165,165,165)"/>
</g>
<g filter="url(#bl9)">
<polygon points="440.0,770.0 468.0,756.0 470.0,815.0 442.0,815.0" fill="rgb(118,118,118)"/>
</g>
</g>
<g filter="url(#bl14)">
<polygon points="470.0,749.0 485.0,744.0 493.0,751.0 492.0,770.0 485.0,786.0 474.0,788.0 469.0,775.0" fill="#0b2af6"/>
</g>
<g filter="url(#bl3)">
<ellipse cx="457" cy="795" rx="7" ry="16" fill="#1f5cff"/>
</g>
<g filter="url(#bl10)">
<ellipse cx="457" cy="793" rx="4.5" ry="12" fill="#2f8cff"/>
</g>
<g filter="url(#bl10)">
<polygon points="471.0,751.0 486.0,747.0 490.0,756.0 488.0,771.0 480.0,780.0 471.0,775.0" fill="#18d0f0"/>
<ellipse cx="457" cy="791" rx="2.8" ry="8" fill="#18d0f0"/>
</g>
<g filter="url(#bl8)">
<polygon points="473.0,753.0 485.0,750.0 488.0,758.0 485.0,771.0 478.0,776.0 473.0,769.0" fill="#3ee84a"/>
</g>
<g filter="url(#bl12)">
<ellipse cx="480.3" cy="762" rx="5" ry="8" fill="#f2ee10" transform="rotate(15 480.3 762)"/>
</g>
<g filter="url(#bl1)">
<ellipse cx="480.3" cy="761.9" rx="3.2" ry="5.5" fill="#ff8c00" transform="rotate(15 480.3 761.9)"/>
</g>
<g filter="url(#bl11)">
<ellipse cx="480.5" cy="761" rx="1.6" ry="3" fill="#ff2800" transform="rotate(15 480.5 761)"/>
</g>
</g>
<text x="8.00" y="18.00" font-size="14" fill="#000" font-weight="bold" textLength="10.20" lengthAdjust="spacingAndGlyphs" >A</text>
<text x="62.50" y="33.60" font-size="12.6" fill="#E08A1C" stroke="#E08A1C" stroke-width="0.2" font-style="italic" textLength="38.30" lengthAdjust="spacingAndGlyphs" >Control</text>
<text x="153.00" y="33.60" font-size="12.6" fill="#2F4F8A" stroke="#2F4F8A" stroke-width="0.2" font-style="italic" textLength="43.50" lengthAdjust="spacingAndGlyphs" >Mx1-Cre</text>
<text x="197.30" y="33.60" font-size="12.6" fill="#2F4F8A" stroke="#2F4F8A" stroke-width="0.2" font-style="italic" textLength="26.00" lengthAdjust="spacingAndGlyphs" >Cbfb</text>
<text x="224.80" y="30.00" font-size="8.6" fill="#2F4F8A" stroke="#2F4F8A" stroke-width="0.1" font-style="italic" textLength="26.20" lengthAdjust="spacingAndGlyphs" >+/56M</text>
<text x="277.70" y="20.00" font-size="12.6" fill="#B0123F" stroke="#B0123F" stroke-width="0.2" font-style="italic" textLength="28.80" lengthAdjust="spacingAndGlyphs" >Runx1</text>
<text x="306.80" y="16.20" font-size="8.6" fill="#B0123F" stroke="#B0123F" stroke-width="0.1" font-style="italic" textLength="11.00" lengthAdjust="spacingAndGlyphs" >f/f</text>
<text x="319.00" y="20.00" font-size="12.6" fill="#B0123F" stroke="#B0123F" stroke-width="0.2" font-style="italic" textLength="44.30" lengthAdjust="spacingAndGlyphs" >Mx1-Cre</text>
<text x="277.70" y="33.60" font-size="12.6" fill="#B0123F" stroke="#B0123F" stroke-width="0.2" font-style="italic" textLength="25.00" lengthAdjust="spacingAndGlyphs" >Cbfb</text>
<text x="303.70" y="30.00" font-size="8.6" fill="#B0123F" stroke="#B0123F" stroke-width="0.1" font-style="italic" textLength="26.90" lengthAdjust="spacingAndGlyphs" >+/56M</text>
<text x="401.20" y="33.60" font-size="12.6" fill="#6BA83E" stroke="#6BA83E" stroke-width="0.2" font-style="italic" textLength="30.60" lengthAdjust="spacingAndGlyphs" >Runx1</text>
<text x="432.20" y="29.60" font-size="8.6" fill="#6BA83E" stroke="#6BA83E" stroke-width="0.1" font-style="italic" textLength="10.20" lengthAdjust="spacingAndGlyphs" >f/f</text>
<text x="443.00" y="33.60" font-size="12.6" fill="#6BA83E" stroke="#6BA83E" stroke-width="0.2" font-style="italic" textLength="44.00" lengthAdjust="spacingAndGlyphs" >Mx1-Cre</text>
<text x="12.10" y="47.30" font-size="10.5" fill="#222" stroke="#222" stroke-width="0.28" textLength="8.70" lengthAdjust="spacingAndGlyphs" >(i)</text>
<text x="9.40" y="189.70" font-size="10.5" fill="#222" stroke="#222" stroke-width="0.28" textLength="11.60" lengthAdjust="spacingAndGlyphs" >(ii)</text>
<text x="6.00" y="324.20" font-size="10.5" fill="#222" stroke="#222" stroke-width="0.28" textLength="15.00" lengthAdjust="spacingAndGlyphs" >(iii)</text>
<polyline points="14.60,106.00 14.60,164.30 468.00,164.30" fill="none" stroke="#000" stroke-width="1.3" />
<polygon points="14.60,101.80 18.35,111.30 14.60,108.92 10.85,111.30" fill="#000" />
<polygon points="474.00,164.30 464.50,160.55 466.88,164.30 464.50,168.05" fill="#000" />
<text x="18.10" y="97.10" font-size="12" fill="#222" stroke="#222" stroke-width="0.28" textLength="11.00" lengthAdjust="spacingAndGlyphs" transform="rotate(-90 18.10 97.10)" >Lin</text>
<text x="477.90" y="167.60" font-size="12" fill="#222" stroke="#222" stroke-width="0.28" textLength="17.00" lengthAdjust="spacingAndGlyphs" >c-Kit</text>
<polyline points="14.60,248.00 14.60,302.60 463.00,302.60" fill="none" stroke="#000" stroke-width="1.3" />
<polygon points="14.60,243.00 18.35,252.50 14.60,250.12 10.85,252.50" fill="#000" />
<polygon points="469.20,302.60 459.70,298.85 462.07,302.60 459.70,306.35" fill="#000" />
<text x="18.10" y="235.60" font-size="12" fill="#222" stroke="#222" stroke-width="0.28" textLength="18.20" lengthAdjust="spacingAndGlyphs" transform="rotate(-90 18.10 235.60)" >c-Kit</text>
<text x="477.50" y="306.00" font-size="12" fill="#222" stroke="#222" stroke-width="0.28" textLength="18.30" lengthAdjust="spacingAndGlyphs" >Sca1</text>
<polyline points="14.60,379.00 14.60,437.00 466.00,437.00" fill="none" stroke="#000" stroke-width="1.3" />
<polygon points="14.60,374.20 18.35,383.70 14.60,381.32 10.85,383.70" fill="#000" />
<polygon points="472.60,437.00 463.10,433.25 465.48,437.00 463.10,440.75" fill="#000" />
<text x="18.10" y="369.40" font-size="12" fill="#222" stroke="#222" stroke-width="0.28" textLength="35.00" lengthAdjust="spacingAndGlyphs" transform="rotate(-90 18.10 369.40)" >Fc&#947;RII/III</text>
<text x="477.50" y="440.80" font-size="12" fill="#222" stroke="#222" stroke-width="0.28" textLength="21.50" lengthAdjust="spacingAndGlyphs" >CD34</text>
<line x1="93.80" y1="139.50" x2="93.80" y2="158.00" stroke="#000" stroke-width="1.3" />
<polygon points="93.80,163.60 97.30,154.60 93.80,156.85 90.30,154.60" fill="#000" />
<line x1="33.30" y1="211.30" x2="33.30" y2="309.00" stroke="#000" stroke-width="1.3" />
<polygon points="33.30,314.80 36.80,305.80 33.30,308.05 29.80,305.80" fill="#000" />
<line x1="29.50" y1="42.30" x2="135.80" y2="42.30" stroke="#b8b8b8" stroke-width="0.8" />
<line x1="135.80" y1="42.30" x2="135.80" y2="148.30" stroke="#b8b8b8" stroke-width="0.8" />
<line x1="29.50" y1="42.30" x2="29.50" y2="148.30" stroke="#333" stroke-width="0.9" />
<line x1="29.50" y1="148.30" x2="135.80" y2="148.30" stroke="#333" stroke-width="0.9" />
<line x1="27.70" y1="50.78" x2="29.50" y2="50.78" stroke="#333" stroke-width="0.7" />
<line x1="27.70" y1="63.50" x2="29.50" y2="63.50" stroke="#333" stroke-width="0.7" />
<line x1="27.70" y1="77.28" x2="29.50" y2="77.28" stroke="#333" stroke-width="0.7" />
<line x1="27.70" y1="90.00" x2="29.50" y2="90.00" stroke="#333" stroke-width="0.7" />
<line x1="27.70" y1="103.78" x2="29.50" y2="103.78" stroke="#333" stroke-width="0.7" />
<line x1="27.70" y1="116.50" x2="29.50" y2="116.50" stroke="#333" stroke-width="0.7" />
<line x1="27.70" y1="129.22" x2="29.50" y2="129.22" stroke="#333" stroke-width="0.7" />
<line x1="27.70" y1="137.70" x2="29.50" y2="137.70" stroke="#333" stroke-width="0.7" />
<line x1="27.70" y1="143.00" x2="29.50" y2="143.00" stroke="#333" stroke-width="0.7" />
<line x1="34.81" y1="148.30" x2="34.81" y2="150.10" stroke="#333" stroke-width="0.7" />
<line x1="48.63" y1="148.30" x2="48.63" y2="150.10" stroke="#333" stroke-width="0.7" />
<line x1="66.70" y1="148.30" x2="66.70" y2="150.10" stroke="#333" stroke-width="0.7" />
<line x1="87.97" y1="148.30" x2="87.97" y2="150.10" stroke="#333" stroke-width="0.7" />
<line x1="106.04" y1="148.30" x2="106.04" y2="150.10" stroke="#333" stroke-width="0.7" />
<line x1="125.17" y1="148.30" x2="125.17" y2="150.10" stroke="#333" stroke-width="0.7" />
<polyline points="29.50,90.20 131.50,90.20 131.50,148.30" fill="none" stroke="#1a1a1a" stroke-width="1.1" />
<rect x="30.50" y="139.80" width="18.40" height="8.20" fill="#fff" stroke="none" stroke-width="1" />
<text x="39.70" y="145.88" font-size="7.2" fill="#2a2a2a" stroke="#2a2a2a" stroke-width="0.1" text-anchor="middle" textLength="14.15" lengthAdjust="spacingAndGlyphs" >11.3</text>
<line x1="151.80" y1="42.30" x2="258.50" y2="42.30" stroke="#b8b8b8" stroke-width="0.8" />
<line x1="258.50" y1="42.30" x2="258.50" y2="148.30" stroke="#b8b8b8" stroke-width="0.8" />
<line x1="151.80" y1="42.30" x2="151.80" y2="148.30" stroke="#333" stroke-width="0.9" />
<line x1="151.80" y1="148.30" x2="258.50" y2="148.30" stroke="#333" stroke-width="0.9" />
<line x1="150.00" y1="50.78" x2="151.80" y2="50.78" stroke="#333" stroke-width="0.7" />
<line x1="150.00" y1="63.50" x2="151.80" y2="63.50" stroke="#333" stroke-width="0.7" />
<line x1="150.00" y1="77.28" x2="151.80" y2="77.28" stroke="#333" stroke-width="0.7" />
<line x1="150.00" y1="90.00" x2="151.80" y2="90.00" stroke="#333" stroke-width="0.7" />
<line x1="150.00" y1="103.78" x2="151.80" y2="103.78" stroke="#333" stroke-width="0.7" />
<line x1="150.00" y1="116.50" x2="151.80" y2="116.50" stroke="#333" stroke-width="0.7" />
<line x1="150.00" y1="129.22" x2="151.80" y2="129.22" stroke="#333" stroke-width="0.7" />
<line x1="150.00" y1="137.70" x2="151.80" y2="137.70" stroke="#333" stroke-width="0.7" />
<line x1="150.00" y1="143.00" x2="151.80" y2="143.00" stroke="#333" stroke-width="0.7" />
<line x1="157.14" y1="148.30" x2="157.14" y2="150.10" stroke="#333" stroke-width="0.7" />
<line x1="171.01" y1="148.30" x2="171.01" y2="150.10" stroke="#333" stroke-width="0.7" />
<line x1="189.15" y1="148.30" x2="189.15" y2="150.10" stroke="#333" stroke-width="0.7" />
<line x1="210.49" y1="148.30" x2="210.49" y2="150.10" stroke="#333" stroke-width="0.7" />
<line x1="228.62" y1="148.30" x2="228.62" y2="150.10" stroke="#333" stroke-width="0.7" />
<line x1="247.83" y1="148.30" x2="247.83" y2="150.10" stroke="#333" stroke-width="0.7" />
<polyline points="151.80,88.90 253.50,88.90 253.50,148.30" fill="none" stroke="#1a1a1a" stroke-width="1.1" />
<rect x="152.80" y="139.80" width="18.40" height="8.20" fill="#fff" stroke="none" stroke-width="1" />
<text x="162.00" y="145.88" font-size="7.2" fill="#2a2a2a" stroke="#2a2a2a" stroke-width="0.1" text-anchor="middle" textLength="14.71" lengthAdjust="spacingAndGlyphs" >35.6</text>
<line x1="273.00" y1="42.30" x2="379.20" y2="42.30" stroke="#b8b8b8" stroke-width="0.8" />
<line x1="379.20" y1="42.30" x2="379.20" y2="148.30" stroke="#b8b8b8" stroke-width="0.8" />
<line x1="273.00" y1="42.30" x2="273.00" y2="148.30" stroke="#333" stroke-width="0.9" />
<line x1="273.00" y1="148.30" x2="379.20" y2="148.30" stroke="#333" stroke-width="0.9" />
<line x1="271.20" y1="50.78" x2="273.00" y2="50.78" stroke="#333" stroke-width="0.7" />
<line x1="271.20" y1="63.50" x2="273.00" y2="63.50" stroke="#333" stroke-width="0.7" />
<line x1="271.20" y1="77.28" x2="273.00" y2="77.28" stroke="#333" stroke-width="0.7" />
<line x1="271.20" y1="90.00" x2="273.00" y2="90.00" stroke="#333" stroke-width="0.7" />
<line x1="271.20" y1="103.78" x2="273.00" y2="103.78" stroke="#333" stroke-width="0.7" />
<line x1="271.20" y1="116.50" x2="273.00" y2="116.50" stroke="#333" stroke-width="0.7" />
<line x1="271.20" y1="129.22" x2="273.00" y2="129.22" stroke="#333" stroke-width="0.7" />
<line x1="271.20" y1="137.70" x2="273.00" y2="137.70" stroke="#333" stroke-width="0.7" />
<line x1="271.20" y1="143.00" x2="273.00" y2="143.00" stroke="#333" stroke-width="0.7" />
<line x1="278.31" y1="148.30" x2="278.31" y2="150.10" stroke="#333" stroke-width="0.7" />
<line x1="292.12" y1="148.30" x2="292.12" y2="150.10" stroke="#333" stroke-width="0.7" />
<line x1="310.17" y1="148.30" x2="310.17" y2="150.10" stroke="#333" stroke-width="0.7" />
<line x1="331.41" y1="148.30" x2="331.41" y2="150.10" stroke="#333" stroke-width="0.7" />
<line x1="349.46" y1="148.30" x2="349.46" y2="150.10" stroke="#333" stroke-width="0.7" />
<line x1="368.58" y1="148.30" x2="368.58" y2="150.10" stroke="#333" stroke-width="0.7" />
<polyline points="273.00,89.00 374.40,89.00 374.40,148.30" fill="none" stroke="#1a1a1a" stroke-width="1.1" />
<rect x="274.00" y="139.80" width="18.40" height="8.20" fill="#fff" stroke="none" stroke-width="1" />
<text x="283.20" y="145.88" font-size="7.2" fill="#2a2a2a" stroke="#2a2a2a" stroke-width="0.1" text-anchor="middle" textLength="14.71" lengthAdjust="spacingAndGlyphs" >29.7</text>
<line x1="392.30" y1="42.30" x2="498.80" y2="42.30" stroke="#b8b8b8" stroke-width="0.8" />
<line x1="498.80" y1="42.30" x2="498.80" y2="148.30" stroke="#b8b8b8" stroke-width="0.8" />
<line x1="392.30" y1="42.30" x2="392.30" y2="148.30" stroke="#333" stroke-width="0.9" />
<line x1="392.30" y1="148.30" x2="498.80" y2="148.30" stroke="#333" stroke-width="0.9" />
<line x1="390.50" y1="50.78" x2="392.30" y2="50.78" stroke="#333" stroke-width="0.7" />
<line x1="390.50" y1="63.50" x2="392.30" y2="63.50" stroke="#333" stroke-width="0.7" />
<line x1="390.50" y1="77.28" x2="392.30" y2="77.28" stroke="#333" stroke-width="0.7" />
<line x1="390.50" y1="90.00" x2="392.30" y2="90.00" stroke="#333" stroke-width="0.7" />
<line x1="390.50" y1="103.78" x2="392.30" y2="103.78" stroke="#333" stroke-width="0.7" />
<line x1="390.50" y1="116.50" x2="392.30" y2="116.50" stroke="#333" stroke-width="0.7" />
<line x1="390.50" y1="129.22" x2="392.30" y2="129.22" stroke="#333" stroke-width="0.7" />
<line x1="390.50" y1="137.70" x2="392.30" y2="137.70" stroke="#333" stroke-width="0.7" />
<line x1="390.50" y1="143.00" x2="392.30" y2="143.00" stroke="#333" stroke-width="0.7" />
<line x1="397.62" y1="148.30" x2="397.62" y2="150.10" stroke="#333" stroke-width="0.7" />
<line x1="411.47" y1="148.30" x2="411.47" y2="150.10" stroke="#333" stroke-width="0.7" />
<line x1="429.57" y1="148.30" x2="429.57" y2="150.10" stroke="#333" stroke-width="0.7" />
<line x1="450.88" y1="148.30" x2="450.88" y2="150.10" stroke="#333" stroke-width="0.7" />
<line x1="468.98" y1="148.30" x2="468.98" y2="150.10" stroke="#333" stroke-width="0.7" />
<line x1="488.15" y1="148.30" x2="488.15" y2="150.10" stroke="#333" stroke-width="0.7" />
<polyline points="392.30,90.40 494.50,90.40 494.50,148.30" fill="none" stroke="#1a1a1a" stroke-width="1.1" />
<rect x="393.30" y="139.80" width="18.40" height="8.20" fill="#fff" stroke="none" stroke-width="1" />
<text x="402.50" y="145.88" font-size="7.2" fill="#2a2a2a" stroke="#2a2a2a" stroke-width="0.1" text-anchor="middle" textLength="14.71" lengthAdjust="spacingAndGlyphs" >24.5</text>
<line x1="29.50" y1="183.50" x2="135.80" y2="183.50" stroke="#b8b8b8" stroke-width="0.8" />
<line x1="135.80" y1="183.50" x2="135.80" y2="289.50" stroke="#b8b8b8" stroke-width="0.8" />
<line x1="29.50" y1="183.50" x2="29.50" y2="289.50" stroke="#333" stroke-width="0.9" />
<line x1="29.50" y1="289.50" x2="135.80" y2="289.50" stroke="#333" stroke-width="0.9" />
<line x1="27.70" y1="191.98" x2="29.50" y2="191.98" stroke="#333" stroke-width="0.7" />
<line x1="27.70" y1="204.70" x2="29.50" y2="204.70" stroke="#333" stroke-width="0.7" />
<line x1="27.70" y1="218.48" x2="29.50" y2="218.48" stroke="#333" stroke-width="0.7" />
<line x1="27.70" y1="231.20" x2="29.50" y2="231.20" stroke="#333" stroke-width="0.7" />
<line x1="27.70" y1="244.98" x2="29.50" y2="244.98" stroke="#333" stroke-width="0.7" />
<line x1="27.70" y1="257.70" x2="29.50" y2="257.70" stroke="#333" stroke-width="0.7" />
<line x1="27.70" y1="270.42" x2="29.50" y2="270.42" stroke="#333" stroke-width="0.7" />
<line x1="27.70" y1="278.90" x2="29.50" y2="278.90" stroke="#333" stroke-width="0.7" />
<line x1="27.70" y1="284.20" x2="29.50" y2="284.20" stroke="#333" stroke-width="0.7" />
<line x1="34.81" y1="289.50" x2="34.81" y2="291.30" stroke="#333" stroke-width="0.7" />
<line x1="48.63" y1="289.50" x2="48.63" y2="291.30" stroke="#333" stroke-width="0.7" />
<line x1="66.70" y1="289.50" x2="66.70" y2="291.30" stroke="#333" stroke-width="0.7" />
<line x1="87.97" y1="289.50" x2="87.97" y2="291.30" stroke="#333" stroke-width="0.7" />
<line x1="106.04" y1="289.50" x2="106.04" y2="291.30" stroke="#333" stroke-width="0.7" />
<line x1="125.17" y1="289.50" x2="125.17" y2="291.30" stroke="#333" stroke-width="0.7" />
<rect x="29.50" y="189.20" width="35.90" height="44.80" fill="none" stroke="#1a1a1a" stroke-width="1.3" />
<rect x="65.40" y="189.20" width="47.10" height="44.80" fill="none" stroke="#1a1a1a" stroke-width="1.3" />
<rect x="38.10" y="207.90" width="18.10" height="9.70" fill="#fff" stroke="none" stroke-width="1" />
<text x="47.15" y="215.19" font-size="8.5" fill="#2a2a2a" stroke="#2a2a2a" stroke-width="0.1" text-anchor="middle" textLength="15.05" lengthAdjust="spacingAndGlyphs" >23.4</text>
<rect x="78.60" y="207.90" width="19.20" height="9.70" fill="#fff" stroke="none" stroke-width="1" />
<text x="88.20" y="215.19" font-size="8.5" fill="#2a2a2a" stroke="#2a2a2a" stroke-width="0.1" text-anchor="middle" textLength="15.05" lengthAdjust="spacingAndGlyphs" >1.08</text>
<line x1="151.80" y1="183.50" x2="258.50" y2="183.50" stroke="#b8b8b8" stroke-width="0.8" />
<line x1="258.50" y1="183.50" x2="258.50" y2="289.50" stroke="#b8b8b8" stroke-width="0.8" />
<line x1="151.80" y1="183.50" x2="151.80" y2="289.50" stroke="#333" stroke-width="0.9" />
<line x1="151.80" y1="289.50" x2="258.50" y2="289.50" stroke="#333" stroke-width="0.9" />
<line x1="150.00" y1="191.98" x2="151.80" y2="191.98" stroke="#333" stroke-width="0.7" />
<line x1="150.00" y1="204.70" x2="151.80" y2="204.70" stroke="#333" stroke-width="0.7" />
<line x1="150.00" y1="218.48" x2="151.80" y2="218.48" stroke="#333" stroke-width="0.7" />
<line x1="150.00" y1="231.20" x2="151.80" y2="231.20" stroke="#333" stroke-width="0.7" />
<line x1="150.00" y1="244.98" x2="151.80" y2="244.98" stroke="#333" stroke-width="0.7" />
<line x1="150.00" y1="257.70" x2="151.80" y2="257.70" stroke="#333" stroke-width="0.7" />
<line x1="150.00" y1="270.42" x2="151.80" y2="270.42" stroke="#333" stroke-width="0.7" />
<line x1="150.00" y1="278.90" x2="151.80" y2="278.90" stroke="#333" stroke-width="0.7" />
<line x1="150.00" y1="284.20" x2="151.80" y2="284.20" stroke="#333" stroke-width="0.7" />
<line x1="157.14" y1="289.50" x2="157.14" y2="291.30" stroke="#333" stroke-width="0.7" />
<line x1="171.01" y1="289.50" x2="171.01" y2="291.30" stroke="#333" stroke-width="0.7" />
<line x1="189.15" y1="289.50" x2="189.15" y2="291.30" stroke="#333" stroke-width="0.7" />
<line x1="210.49" y1="289.50" x2="210.49" y2="291.30" stroke="#333" stroke-width="0.7" />
<line x1="228.62" y1="289.50" x2="228.62" y2="291.30" stroke="#333" stroke-width="0.7" />
<line x1="247.83" y1="289.50" x2="247.83" y2="291.30" stroke="#333" stroke-width="0.7" />
<rect x="151.80" y="189.60" width="56.90" height="43.20" fill="none" stroke="#1a1a1a" stroke-width="1.3" />
<rect x="208.70" y="189.60" width="44.30" height="43.20" fill="none" stroke="#1a1a1a" stroke-width="1.3" />
<rect x="171.00" y="207.90" width="19.00" height="9.70" fill="#fff" stroke="none" stroke-width="1" />
<text x="180.50" y="215.19" font-size="8.5" fill="#2a2a2a" stroke="#2a2a2a" stroke-width="0.1" text-anchor="middle" textLength="15.05" lengthAdjust="spacingAndGlyphs" >24.5</text>
<rect x="221.00" y="207.90" width="19.50" height="9.70" fill="#fff" stroke="none" stroke-width="1" />
<text x="230.75" y="215.19" font-size="8.5" fill="#2a2a2a" stroke="#2a2a2a" stroke-width="0.1" text-anchor="middle" textLength="15.05" lengthAdjust="spacingAndGlyphs" >3.05</text>
<line x1="273.00" y1="183.50" x2="379.20" y2="183.50" stroke="#b8b8b8" stroke-width="0.8" />
<line x1="379.20" y1="183.50" x2="379.20" y2="289.50" stroke="#b8b8b8" stroke-width="0.8" />
<line x1="273.00" y1="183.50" x2="273.00" y2="289.50" stroke="#333" stroke-width="0.9" />
<line x1="273.00" y1="289.50" x2="379.20" y2="289.50" stroke="#333" stroke-width="0.9" />
<line x1="271.20" y1="191.98" x2="273.00" y2="191.98" stroke="#333" stroke-width="0.7" />
<line x1="271.20" y1="204.70" x2="273.00" y2="204.70" stroke="#333" stroke-width="0.7" />
<line x1="271.20" y1="218.48" x2="273.00" y2="218.48" stroke="#333" stroke-width="0.7" />
<line x1="271.20" y1="231.20" x2="273.00" y2="231.20" stroke="#333" stroke-width="0.7" />
<line x1="271.20" y1="244.98" x2="273.00" y2="244.98" stroke="#333" stroke-width="0.7" />
<line x1="271.20" y1="257.70" x2="273.00" y2="257.70" stroke="#333" stroke-width="0.7" />
<line x1="271.20" y1="270.42" x2="273.00" y2="270.42" stroke="#333" stroke-width="0.7" />
<line x1="271.20" y1="278.90" x2="273.00" y2="278.90" stroke="#333" stroke-width="0.7" />
<line x1="271.20" y1="284.20" x2="273.00" y2="284.20" stroke="#333" stroke-width="0.7" />
<line x1="278.31" y1="289.50" x2="278.31" y2="291.30" stroke="#333" stroke-width="0.7" />
<line x1="292.12" y1="289.50" x2="292.12" y2="291.30" stroke="#333" stroke-width="0.7" />
<line x1="310.17" y1="289.50" x2="310.17" y2="291.30" stroke="#333" stroke-width="0.7" />
<line x1="331.41" y1="289.50" x2="331.41" y2="291.30" stroke="#333" stroke-width="0.7" />
<line x1="349.46" y1="289.50" x2="349.46" y2="291.30" stroke="#333" stroke-width="0.7" />
<line x1="368.58" y1="289.50" x2="368.58" y2="291.30" stroke="#333" stroke-width="0.7" />
<rect x="273.00" y="189.60" width="57.00" height="43.60" fill="none" stroke="#1a1a1a" stroke-width="1.3" />
<rect x="330.00" y="189.60" width="43.60" height="43.60" fill="none" stroke="#1a1a1a" stroke-width="1.3" />
<rect x="295.00" y="207.90" width="12.50" height="9.70" fill="#fff" stroke="none" stroke-width="1" />
<text x="301.25" y="215.19" font-size="8.5" fill="#2a2a2a" stroke="#2a2a2a" stroke-width="0.1" text-anchor="middle" textLength="8.60" lengthAdjust="spacingAndGlyphs" >35</text>
<rect x="342.00" y="207.90" width="19.50" height="9.70" fill="#fff" stroke="none" stroke-width="1" />
<text x="351.75" y="215.19" font-size="8.5" fill="#2a2a2a" stroke="#2a2a2a" stroke-width="0.1" text-anchor="middle" textLength="15.05" lengthAdjust="spacingAndGlyphs" >22.9</text>
<line x1="392.30" y1="183.50" x2="498.80" y2="183.50" stroke="#b8b8b8" stroke-width="0.8" />
<line x1="498.80" y1="183.50" x2="498.80" y2="289.50" stroke="#b8b8b8" stroke-width="0.8" />
<line x1="392.30" y1="183.50" x2="392.30" y2="289.50" stroke="#333" stroke-width="0.9" />
<line x1="392.30" y1="289.50" x2="498.80" y2="289.50" stroke="#333" stroke-width="0.9" />
<line x1="390.50" y1="191.98" x2="392.30" y2="191.98" stroke="#333" stroke-width="0.7" />
<line x1="390.50" y1="204.70" x2="392.30" y2="204.70" stroke="#333" stroke-width="0.7" />
<line x1="390.50" y1="218.48" x2="392.30" y2="218.48" stroke="#333" stroke-width="0.7" />
<line x1="390.50" y1="231.20" x2="392.30" y2="231.20" stroke="#333" stroke-width="0.7" />
<line x1="390.50" y1="244.98" x2="392.30" y2="244.98" stroke="#333" stroke-width="0.7" />
<line x1="390.50" y1="257.70" x2="392.30" y2="257.70" stroke="#333" stroke-width="0.7" />
<line x1="390.50" y1="270.42" x2="392.30" y2="270.42" stroke="#333" stroke-width="0.7" />
<line x1="390.50" y1="278.90" x2="392.30" y2="278.90" stroke="#333" stroke-width="0.7" />
<line x1="390.50" y1="284.20" x2="392.30" y2="284.20" stroke="#333" stroke-width="0.7" />
<line x1="397.62" y1="289.50" x2="397.62" y2="291.30" stroke="#333" stroke-width="0.7" />
<line x1="411.47" y1="289.50" x2="411.47" y2="291.30" stroke="#333" stroke-width="0.7" />
<line x1="429.57" y1="289.50" x2="429.57" y2="291.30" stroke="#333" stroke-width="0.7" />
<line x1="450.88" y1="289.50" x2="450.88" y2="291.30" stroke="#333" stroke-width="0.7" />
<line x1="468.98" y1="289.50" x2="468.98" y2="291.30" stroke="#333" stroke-width="0.7" />
<line x1="488.15" y1="289.50" x2="488.15" y2="291.30" stroke="#333" stroke-width="0.7" />
<rect x="392.30" y="189.60" width="36.20" height="44.40" fill="none" stroke="#1a1a1a" stroke-width="1.3" />
<rect x="428.50" y="189.60" width="53.80" height="44.40" fill="none" stroke="#1a1a1a" stroke-width="1.3" />
<rect x="401.20" y="207.90" width="18.80" height="9.70" fill="#fff" stroke="none" stroke-width="1" />
<text x="410.60" y="215.19" font-size="8.5" fill="#2a2a2a" stroke="#2a2a2a" stroke-width="0.1" text-anchor="middle" textLength="15.05" lengthAdjust="spacingAndGlyphs" >25.7</text>
<rect x="445.80" y="207.90" width="19.00" height="9.70" fill="#fff" stroke="none" stroke-width="1" />
<text x="455.30" y="215.19" font-size="8.5" fill="#2a2a2a" stroke="#2a2a2a" stroke-width="0.1" text-anchor="middle" textLength="15.05" lengthAdjust="spacingAndGlyphs" >4.43</text>
<text x="29.60" y="180.00" font-size="10.5" fill="#222" stroke="#222" stroke-width="0.28" textLength="10.80" lengthAdjust="spacingAndGlyphs" >LK</text>
<text x="78.70" y="180.00" font-size="10.5" fill="#222" stroke="#222" stroke-width="0.28" textLength="15.40" lengthAdjust="spacingAndGlyphs" >LSK</text>
<line x1="29.50" y1="316.70" x2="135.80" y2="316.70" stroke="#b8b8b8" stroke-width="0.8" />
<line x1="135.80" y1="316.70" x2="135.80" y2="423.10" stroke="#b8b8b8" stroke-width="0.8" />
<line x1="29.50" y1="316.70" x2="29.50" y2="423.10" stroke="#333" stroke-width="0.9" />
<line x1="29.50" y1="423.10" x2="135.80" y2="423.10" stroke="#333" stroke-width="0.9" />
<line x1="27.70" y1="325.21" x2="29.50" y2="325.21" stroke="#333" stroke-width="0.7" />
<line x1="27.70" y1="337.98" x2="29.50" y2="337.98" stroke="#333" stroke-width="0.7" />
<line x1="27.70" y1="351.81" x2="29.50" y2="351.81" stroke="#333" stroke-width="0.7" />
<line x1="27.70" y1="364.58" x2="29.50" y2="364.58" stroke="#333" stroke-width="0.7" />
<line x1="27.70" y1="378.41" x2="29.50" y2="378.41" stroke="#333" stroke-width="0.7" />
<line x1="27.70" y1="391.18" x2="29.50" y2="391.18" stroke="#333" stroke-width="0.7" />
<line x1="27.70" y1="403.95" x2="29.50" y2="403.95" stroke="#333" stroke-width="0.7" />
<line x1="27.70" y1="412.46" x2="29.50" y2="412.46" stroke="#333" stroke-width="0.7" />
<line x1="27.70" y1="417.78" x2="29.50" y2="417.78" stroke="#333" stroke-width="0.7" />
<line x1="34.81" y1="423.10" x2="34.81" y2="424.90" stroke="#333" stroke-width="0.7" />
<line x1="48.63" y1="423.10" x2="48.63" y2="424.90" stroke="#333" stroke-width="0.7" />
<line x1="66.70" y1="423.10" x2="66.70" y2="424.90" stroke="#333" stroke-width="0.7" />
<line x1="87.97" y1="423.10" x2="87.97" y2="424.90" stroke="#333" stroke-width="0.7" />
<line x1="106.04" y1="423.10" x2="106.04" y2="424.90" stroke="#333" stroke-width="0.7" />
<line x1="125.17" y1="423.10" x2="125.17" y2="424.90" stroke="#333" stroke-width="0.7" />
<line x1="151.80" y1="316.70" x2="258.50" y2="316.70" stroke="#b8b8b8" stroke-width="0.8" />
<line x1="258.50" y1="316.70" x2="258.50" y2="423.10" stroke="#b8b8b8" stroke-width="0.8" />
<line x1="151.80" y1="316.70" x2="151.80" y2="423.10" stroke="#333" stroke-width="0.9" />
<line x1="151.80" y1="423.10" x2="258.50" y2="423.10" stroke="#333" stroke-width="0.9" />
<line x1="150.00" y1="325.21" x2="151.80" y2="325.21" stroke="#333" stroke-width="0.7" />
<line x1="150.00" y1="337.98" x2="151.80" y2="337.98" stroke="#333" stroke-width="0.7" />
<line x1="150.00" y1="351.81" x2="151.80" y2="351.81" stroke="#333" stroke-width="0.7" />
<line x1="150.00" y1="364.58" x2="151.80" y2="364.58" stroke="#333" stroke-width="0.7" />
<line x1="150.00" y1="378.41" x2="151.80" y2="378.41" stroke="#333" stroke-width="0.7" />
<line x1="150.00" y1="391.18" x2="151.80" y2="391.18" stroke="#333" stroke-width="0.7" />
<line x1="150.00" y1="403.95" x2="151.80" y2="403.95" stroke="#333" stroke-width="0.7" />
<line x1="150.00" y1="412.46" x2="151.80" y2="412.46" stroke="#333" stroke-width="0.7" />
<line x1="150.00" y1="417.78" x2="151.80" y2="417.78" stroke="#333" stroke-width="0.7" />
<line x1="157.14" y1="423.10" x2="157.14" y2="424.90" stroke="#333" stroke-width="0.7" />
<line x1="171.01" y1="423.10" x2="171.01" y2="424.90" stroke="#333" stroke-width="0.7" />
<line x1="189.15" y1="423.10" x2="189.15" y2="424.90" stroke="#333" stroke-width="0.7" />
<line x1="210.49" y1="423.10" x2="210.49" y2="424.90" stroke="#333" stroke-width="0.7" />
<line x1="228.62" y1="423.10" x2="228.62" y2="424.90" stroke="#333" stroke-width="0.7" />
<line x1="247.83" y1="423.10" x2="247.83" y2="424.90" stroke="#333" stroke-width="0.7" />
<line x1="273.00" y1="316.70" x2="379.20" y2="316.70" stroke="#b8b8b8" stroke-width="0.8" />
<line x1="379.20" y1="316.70" x2="379.20" y2="423.10" stroke="#b8b8b8" stroke-width="0.8" />
<line x1="273.00" y1="316.70" x2="273.00" y2="423.10" stroke="#333" stroke-width="0.9" />
<line x1="273.00" y1="423.10" x2="379.20" y2="423.10" stroke="#333" stroke-width="0.9" />
<line x1="271.20" y1="325.21" x2="273.00" y2="325.21" stroke="#333" stroke-width="0.7" />
<line x1="271.20" y1="337.98" x2="273.00" y2="337.98" stroke="#333" stroke-width="0.7" />
<line x1="271.20" y1="351.81" x2="273.00" y2="351.81" stroke="#333" stroke-width="0.7" />
<line x1="271.20" y1="364.58" x2="273.00" y2="364.58" stroke="#333" stroke-width="0.7" />
<line x1="271.20" y1="378.41" x2="273.00" y2="378.41" stroke="#333" stroke-width="0.7" />
<line x1="271.20" y1="391.18" x2="273.00" y2="391.18" stroke="#333" stroke-width="0.7" />
<line x1="271.20" y1="403.95" x2="273.00" y2="403.95" stroke="#333" stroke-width="0.7" />
<line x1="271.20" y1="412.46" x2="273.00" y2="412.46" stroke="#333" stroke-width="0.7" />
<line x1="271.20" y1="417.78" x2="273.00" y2="417.78" stroke="#333" stroke-width="0.7" />
<line x1="278.31" y1="423.10" x2="278.31" y2="424.90" stroke="#333" stroke-width="0.7" />
<line x1="292.12" y1="423.10" x2="292.12" y2="424.90" stroke="#333" stroke-width="0.7" />
<line x1="310.17" y1="423.10" x2="310.17" y2="424.90" stroke="#333" stroke-width="0.7" />
<line x1="331.41" y1="423.10" x2="331.41" y2="424.90" stroke="#333" stroke-width="0.7" />
<line x1="349.46" y1="423.10" x2="349.46" y2="424.90" stroke="#333" stroke-width="0.7" />
<line x1="368.58" y1="423.10" x2="368.58" y2="424.90" stroke="#333" stroke-width="0.7" />
<line x1="392.30" y1="316.70" x2="498.80" y2="316.70" stroke="#b8b8b8" stroke-width="0.8" />
<line x1="498.80" y1="316.70" x2="498.80" y2="423.10" stroke="#b8b8b8" stroke-width="0.8" />
<line x1="392.30" y1="316.70" x2="392.30" y2="423.10" stroke="#333" stroke-width="0.9" />
<line x1="392.30" y1="423.10" x2="498.80" y2="423.10" stroke="#333" stroke-width="0.9" />
<line x1="390.50" y1="325.21" x2="392.30" y2="325.21" stroke="#333" stroke-width="0.7" />
<line x1="390.50" y1="337.98" x2="392.30" y2="337.98" stroke="#333" stroke-width="0.7" />
<line x1="390.50" y1="351.81" x2="392.30" y2="351.81" stroke="#333" stroke-width="0.7" />
<line x1="390.50" y1="364.58" x2="392.30" y2="364.58" stroke="#333" stroke-width="0.7" />
<line x1="390.50" y1="378.41" x2="392.30" y2="378.41" stroke="#333" stroke-width="0.7" />
<line x1="390.50" y1="391.18" x2="392.30" y2="391.18" stroke="#333" stroke-width="0.7" />
<line x1="390.50" y1="403.95" x2="392.30" y2="403.95" stroke="#333" stroke-width="0.7" />
<line x1="390.50" y1="412.46" x2="392.30" y2="412.46" stroke="#333" stroke-width="0.7" />
<line x1="390.50" y1="417.78" x2="392.30" y2="417.78" stroke="#333" stroke-width="0.7" />
<line x1="397.62" y1="423.10" x2="397.62" y2="424.90" stroke="#333" stroke-width="0.7" />
<line x1="411.47" y1="423.10" x2="411.47" y2="424.90" stroke="#333" stroke-width="0.7" />
<line x1="429.57" y1="423.10" x2="429.57" y2="424.90" stroke="#333" stroke-width="0.7" />
<line x1="450.88" y1="423.10" x2="450.88" y2="424.90" stroke="#333" stroke-width="0.7" />
<line x1="468.98" y1="423.10" x2="468.98" y2="424.90" stroke="#333" stroke-width="0.7" />
<line x1="488.15" y1="423.10" x2="488.15" y2="424.90" stroke="#333" stroke-width="0.7" />
<rect x="56.60" y="323.80" width="68.10" height="29.60" fill="none" stroke="#1a1a1a" stroke-width="1.1" />
<rect x="84.00" y="354.20" width="40.70" height="28.20" fill="none" stroke="#1a1a1a" stroke-width="1.1" />
<polyline points="29.60,362.30 83.40,362.30 83.40,423.10" fill="none" stroke="#1a1a1a" stroke-width="1.1" />
<text x="89.80" y="322.00" font-size="9" fill="#222" stroke="#222" stroke-width="0.28" textLength="20.70" lengthAdjust="spacingAndGlyphs" >GMP</text>
<text x="33.30" y="374.50" font-size="9" fill="#222" stroke="#222" stroke-width="0.28" textLength="19.00" lengthAdjust="spacingAndGlyphs" >MEP</text>
<text x="91.00" y="397.20" font-size="9" fill="#222" stroke="#222" stroke-width="0.28" textLength="19.50" lengthAdjust="spacingAndGlyphs" >CMP</text>
<rect x="80.90" y="336.20" width="17.50" height="7.40" fill="#fff" stroke="none" stroke-width="1" />
<text x="89.65" y="342.02" font-size="7.6" fill="#2a2a2a" stroke="#2a2a2a" stroke-width="0.1" text-anchor="middle" textLength="14.50" lengthAdjust="spacingAndGlyphs" >44.2</text>
<rect x="95.30" y="365.40" width="16.70" height="7.80" fill="#fff" stroke="none" stroke-width="1" />
<text x="103.65" y="371.42" font-size="7.6" fill="#2a2a2a" stroke="#2a2a2a" stroke-width="0.1" text-anchor="middle" textLength="14.50" lengthAdjust="spacingAndGlyphs" >12.8</text>
<rect x="30.80" y="415.60" width="17.20" height="7.00" fill="#fff" stroke="none" stroke-width="1" />
<text x="39.40" y="421.22" font-size="7.6" fill="#2a2a2a" stroke="#2a2a2a" stroke-width="0.1" text-anchor="middle" textLength="14.50" lengthAdjust="spacingAndGlyphs" >38.7</text>
<rect x="152.20" y="331.80" width="41.60" height="41.40" fill="none" stroke="#1a1a1a" stroke-width="1.1" />
<rect x="193.80" y="331.80" width="39.10" height="32.80" fill="none" stroke="#1a1a1a" stroke-width="1.1" />
<rect x="193.80" y="364.60" width="39.10" height="27.80" fill="none" stroke="#1a1a1a" stroke-width="1.1" />
<line x1="193.80" y1="392.40" x2="193.80" y2="423.10" stroke="#1a1a1a" stroke-width="1.1" />
<text x="154.00" y="329.20" font-size="9" fill="#222" stroke="#222" stroke-width="0.28" textLength="19.70" lengthAdjust="spacingAndGlyphs" >AMP</text>
<text x="210.00" y="329.20" font-size="9" fill="#222" stroke="#222" stroke-width="0.28" textLength="20.00" lengthAdjust="spacingAndGlyphs" >GMP</text>
<text x="210.00" y="404.30" font-size="9" fill="#222" stroke="#222" stroke-width="0.28" textLength="19.70" lengthAdjust="spacingAndGlyphs" >CMP</text>
<text x="195.00" y="421.20" font-size="9" fill="#222" stroke="#222" stroke-width="0.28" textLength="17.70" lengthAdjust="spacingAndGlyphs" >MEP</text>
<rect x="163.20" y="349.00" width="18.60" height="8.00" fill="#fff" stroke="none" stroke-width="1" />
<text x="172.50" y="355.12" font-size="7.6" fill="#2a2a2a" stroke="#2a2a2a" stroke-width="0.1" text-anchor="middle" textLength="14.50" lengthAdjust="spacingAndGlyphs" >33.2</text>
<rect x="203.80" y="344.20" width="17.80" height="8.00" fill="#fff" stroke="none" stroke-width="1" />
<text x="212.70" y="350.32" font-size="7.6" fill="#2a2a2a" stroke="#2a2a2a" stroke-width="0.1" text-anchor="middle" textLength="14.50" lengthAdjust="spacingAndGlyphs" >42.7</text>
<rect x="203.80" y="375.30" width="17.80" height="8.00" fill="#fff" stroke="none" stroke-width="1" />
<text x="212.70" y="381.42" font-size="7.6" fill="#2a2a2a" stroke="#2a2a2a" stroke-width="0.1" text-anchor="middle" textLength="14.50" lengthAdjust="spacingAndGlyphs" >13.7</text>
<rect x="153.20" y="415.40" width="17.80" height="7.20" fill="#fff" stroke="none" stroke-width="1" />
<text x="162.10" y="421.12" font-size="7.6" fill="#2a2a2a" stroke="#2a2a2a" stroke-width="0.1" text-anchor="middle" textLength="14.50" lengthAdjust="spacingAndGlyphs" >5.09</text>
<rect x="272.80" y="331.80" width="41.90" height="41.40" fill="none" stroke="#1a1a1a" stroke-width="1.1" />
<rect x="314.70" y="331.80" width="38.70" height="32.80" fill="none" stroke="#1a1a1a" stroke-width="1.1" />
<rect x="314.70" y="364.60" width="38.70" height="27.80" fill="none" stroke="#1a1a1a" stroke-width="1.1" />
<line x1="314.70" y1="392.40" x2="314.70" y2="423.10" stroke="#1a1a1a" stroke-width="1.1" />
<rect x="284.00" y="349.00" width="18.60" height="8.00" fill="#fff" stroke="none" stroke-width="1" />
<text x="293.30" y="355.12" font-size="7.6" fill="#2a2a2a" stroke="#2a2a2a" stroke-width="0.1" text-anchor="middle" textLength="14.50" lengthAdjust="spacingAndGlyphs" >27.7</text>
<rect x="325.20" y="344.20" width="17.80" height="8.00" fill="#fff" stroke="none" stroke-width="1" />
<text x="334.10" y="350.32" font-size="7.6" fill="#2a2a2a" stroke="#2a2a2a" stroke-width="0.1" text-anchor="middle" textLength="14.50" lengthAdjust="spacingAndGlyphs" >42.8</text>
<rect x="325.20" y="375.30" width="17.80" height="8.00" fill="#fff" stroke="none" stroke-width="1" />
<text x="334.10" y="381.42" font-size="7.6" fill="#2a2a2a" stroke="#2a2a2a" stroke-width="0.1" text-anchor="middle" textLength="14.50" lengthAdjust="spacingAndGlyphs" >15.2</text>
<rect x="273.80" y="415.40" width="18.00" height="7.20" fill="#fff" stroke="none" stroke-width="1" />
<text x="282.80" y="421.12" font-size="7.6" fill="#2a2a2a" stroke="#2a2a2a" stroke-width="0.1" text-anchor="middle" textLength="14.50" lengthAdjust="spacingAndGlyphs" >9.45</text>
<rect x="419.80" y="323.70" width="67.90" height="29.60" fill="none" stroke="#1a1a1a" stroke-width="1.1" />
<rect x="447.30" y="353.30" width="40.40" height="28.80" fill="none" stroke="#1a1a1a" stroke-width="1.1" />
<polyline points="392.20,362.50 446.50,362.50 446.50,423.10" fill="none" stroke="#1a1a1a" stroke-width="1.1" />
<rect x="443.80" y="335.40" width="18.00" height="8.00" fill="#fff" stroke="none" stroke-width="1" />
<text x="452.80" y="341.52" font-size="7.6" fill="#2a2a2a" stroke="#2a2a2a" stroke-width="0.1" text-anchor="middle" textLength="14.50" lengthAdjust="spacingAndGlyphs" >59.3</text>
<rect x="457.80" y="365.20" width="17.40" height="8.00" fill="#fff" stroke="none" stroke-width="1" />
<text x="466.50" y="371.32" font-size="7.6" fill="#2a2a2a" stroke="#2a2a2a" stroke-width="0.1" text-anchor="middle" textLength="14.50" lengthAdjust="spacingAndGlyphs" >9.33</text>
<rect x="393.60" y="415.40" width="17.40" height="7.20" fill="#fff" stroke="none" stroke-width="1" />
<text x="402.30" y="421.12" font-size="7.6" fill="#2a2a2a" stroke="#2a2a2a" stroke-width="0.1" text-anchor="middle" textLength="14.50" lengthAdjust="spacingAndGlyphs" >27.7</text>
<text x="9.20" y="474.00" font-size="13.5" fill="#000" font-weight="bold" textLength="8.60" lengthAdjust="spacingAndGlyphs" >B</text>
<line x1="43.00" y1="487.20" x2="43.00" y2="621.00" stroke="#1a1a1a" stroke-width="1.3" />
<line x1="42.40" y1="620.40" x2="274.00" y2="620.40" stroke="#1a1a1a" stroke-width="1.3" />
<line x1="39.30" y1="620.40" x2="43.00" y2="620.40" stroke="#1a1a1a" stroke-width="1.1" />
<text x="35.60" y="623.70" font-size="9.6" fill="#222" stroke="#222" stroke-width="0.28" text-anchor="end" >0</text>
<line x1="39.30" y1="594.26" x2="43.00" y2="594.26" stroke="#1a1a1a" stroke-width="1.1" />
<text x="35.60" y="597.56" font-size="9.6" fill="#222" stroke="#222" stroke-width="0.28" text-anchor="end" >10</text>
<line x1="39.30" y1="568.12" x2="43.00" y2="568.12" stroke="#1a1a1a" stroke-width="1.1" />
<text x="35.60" y="571.42" font-size="9.6" fill="#222" stroke="#222" stroke-width="0.28" text-anchor="end" >20</text>
<line x1="39.30" y1="541.98" x2="43.00" y2="541.98" stroke="#1a1a1a" stroke-width="1.1" />
<text x="35.60" y="545.28" font-size="9.6" fill="#222" stroke="#222" stroke-width="0.28" text-anchor="end" >30</text>
<line x1="39.30" y1="515.84" x2="43.00" y2="515.84" stroke="#1a1a1a" stroke-width="1.1" />
<text x="35.60" y="519.14" font-size="9.6" fill="#222" stroke="#222" stroke-width="0.28" text-anchor="end" >40</text>
<line x1="39.30" y1="489.70" x2="43.00" y2="489.70" stroke="#1a1a1a" stroke-width="1.1" />
<text x="35.60" y="493.00" font-size="9.6" fill="#222" stroke="#222" stroke-width="0.28" text-anchor="end" >50</text>
<line x1="100.00" y1="620.40" x2="100.00" y2="624.00" stroke="#1a1a1a" stroke-width="1.1" />
<line x1="215.20" y1="620.40" x2="215.20" y2="624.00" stroke="#1a1a1a" stroke-width="1.1" />
<text x="17.80" y="583.50" font-size="10" fill="#222" stroke="#222" stroke-width="0.28" textLength="60.50" lengthAdjust="spacingAndGlyphs" transform="rotate(-90 17.80 583.50)" >Percentage (%)</text>
<rect x="55.40" y="594.50" width="16.30" height="25.90" fill="#E08B1A" stroke="none" stroke-width="1" />
<line x1="63.55" y1="594.50" x2="63.55" y2="591.20" stroke="#333" stroke-width="1.1" />
<line x1="59.75" y1="591.20" x2="67.35" y2="591.20" stroke="#333" stroke-width="1.3" />
<rect x="80.00" y="504.20" width="15.90" height="116.20" fill="#2B4A8B" stroke="none" stroke-width="1" />
<line x1="87.95" y1="504.20" x2="87.95" y2="498.80" stroke="#333" stroke-width="1.1" />
<line x1="84.15" y1="498.80" x2="91.75" y2="498.80" stroke="#333" stroke-width="1.3" />
<rect x="104.60" y="540.00" width="16.00" height="80.40" fill="#A8102E" stroke="none" stroke-width="1" />
<line x1="112.60" y1="540.00" x2="112.60" y2="532.00" stroke="#333" stroke-width="1.1" />
<line x1="108.80" y1="532.00" x2="116.40" y2="532.00" stroke="#333" stroke-width="1.3" />
<rect x="129.20" y="573.80" width="16.00" height="46.60" fill="#6AAB45" stroke="none" stroke-width="1" />
<line x1="137.20" y1="573.80" x2="137.20" y2="569.60" stroke="#333" stroke-width="1.1" />
<line x1="133.40" y1="569.60" x2="141.00" y2="569.60" stroke="#333" stroke-width="1.3" />
<rect x="170.70" y="562.30" width="16.20" height="58.10" fill="#E08B1A" stroke="none" stroke-width="1" />
<line x1="178.80" y1="562.30" x2="178.80" y2="558.80" stroke="#333" stroke-width="1.1" />
<line x1="175.00" y1="558.80" x2="182.60" y2="558.80" stroke="#333" stroke-width="1.3" />
<rect x="195.20" y="579.00" width="16.20" height="41.40" fill="#2B4A8B" stroke="none" stroke-width="1" />
<line x1="203.30" y1="579.00" x2="203.30" y2="573.90" stroke="#333" stroke-width="1.1" />
<line x1="199.50" y1="573.90" x2="207.10" y2="573.90" stroke="#333" stroke-width="1.3" />
<rect x="220.00" y="536.80" width="16.20" height="83.60" fill="#A8102E" stroke="none" stroke-width="1" />
<line x1="228.10" y1="536.80" x2="228.10" y2="530.60" stroke="#333" stroke-width="1.1" />
<line x1="224.30" y1="530.60" x2="231.90" y2="530.60" stroke="#333" stroke-width="1.3" />
<rect x="244.60" y="528.70" width="16.20" height="91.70" fill="#6AAB45" stroke="none" stroke-width="1" />
<line x1="252.70" y1="528.70" x2="252.70" y2="521.20" stroke="#333" stroke-width="1.1" />
<line x1="248.90" y1="521.20" x2="256.50" y2="521.20" stroke="#333" stroke-width="1.3" />
<polyline points="62.60,517.30 62.60,484.70 88.40,484.70 88.40,489.60" fill="none" stroke="#333" stroke-width="1.1" stroke-linejoin="round"/>
<text x="75.40" y="484.60" font-size="9" fill="#222" stroke="#222" stroke-width="0.28" text-anchor="middle" textLength="15.20" lengthAdjust="spacingAndGlyphs" >****</text>
<polyline points="87.80,495.80 87.80,493.80 112.60,493.80 112.60,516.50" fill="none" stroke="#333" stroke-width="1.1" stroke-linejoin="round"/>
<text x="100.40" y="493.10" font-size="9" fill="#222" stroke="#222" stroke-width="0.28" text-anchor="middle" textLength="7.60" lengthAdjust="spacingAndGlyphs" >**</text>
<polyline points="179.40,548.60 179.40,542.00 204.40,542.00 204.40,564.50" fill="none" stroke="#333" stroke-width="1.1" stroke-linejoin="round"/>
<text x="191.80" y="541.50" font-size="9" fill="#222" stroke="#222" stroke-width="0.28" text-anchor="middle" >*</text>
<polyline points="203.00,532.50 203.00,519.00 229.00,519.00 229.00,525.20" fill="none" stroke="#333" stroke-width="1.1" stroke-linejoin="round"/>
<text x="216.00" y="518.90" font-size="9" fill="#222" stroke="#222" stroke-width="0.28" text-anchor="middle" textLength="15.20" lengthAdjust="spacingAndGlyphs" >****</text>
<text x="57.00" y="639.80" font-size="9.6" fill="#222" stroke="#222" stroke-width="0.28" textLength="13.00" lengthAdjust="spacingAndGlyphs" >Lin</text>
<text x="70.20" y="635.20" font-size="6.5" fill="#222" stroke="#222" stroke-width="0.1" textLength="3.20" lengthAdjust="spacingAndGlyphs" >&#8211;</text>
<text x="75.60" y="639.80" font-size="9.6" fill="#222" stroke="#222" stroke-width="0.28" textLength="68.40" lengthAdjust="spacingAndGlyphs" >of bone marrow</text>
<text x="195.80" y="639.80" font-size="9.6" fill="#222" stroke="#222" stroke-width="0.28" textLength="37.00" lengthAdjust="spacingAndGlyphs" >LK of Lin</text>
<text x="232.90" y="635.20" font-size="6.5" fill="#222" stroke="#222" stroke-width="0.1" textLength="3.20" lengthAdjust="spacingAndGlyphs" >&#8211;</text>
<rect x="278.10" y="483.50" width="16.40" height="5.40" fill="#E08B1A" stroke="none" stroke-width="1" />
<rect x="278.10" y="498.40" width="16.40" height="5.90" fill="#2B4A8B" stroke="none" stroke-width="1" />
<rect x="278.10" y="514.50" width="16.40" height="6.10" fill="#A8102E" stroke="none" stroke-width="1" />
<rect x="278.10" y="541.50" width="16.40" height="6.00" fill="#6AAB45" stroke="none" stroke-width="1" />
<text x="298.80" y="488.80" font-size="9.8" fill="#E08B1A" stroke="#E08B1A" stroke-width="0.1" font-style="italic" textLength="30.20" lengthAdjust="spacingAndGlyphs" >Control</text>
<text x="298.80" y="504.60" font-size="9.8" fill="#2B4A8B" stroke="#2B4A8B" stroke-width="0.1" font-style="italic" textLength="59.20" lengthAdjust="spacingAndGlyphs" >Mx1-Cre Cbfb</text>
<text x="358.60" y="500.60" font-size="6.6" fill="#2B4A8B" stroke="#2B4A8B" stroke-width="0.1" font-style="italic" textLength="18.80" lengthAdjust="spacingAndGlyphs" >+/56M</text>
<text x="298.80" y="520.50" font-size="9.8" fill="#A8102E" stroke="#A8102E" stroke-width="0.1" font-style="italic" textLength="22.60" lengthAdjust="spacingAndGlyphs" >Runx1</text>
<text x="321.60" y="516.60" font-size="6.6" fill="#A8102E" stroke="#A8102E" stroke-width="0.1" font-style="italic" textLength="7.40" lengthAdjust="spacingAndGlyphs" >f/f</text>
<text x="330.00" y="520.50" font-size="9.8" fill="#A8102E" stroke="#A8102E" stroke-width="0.1" font-style="italic" textLength="38.00" lengthAdjust="spacingAndGlyphs" >Mx1-Cre</text>
<text x="298.80" y="531.40" font-size="9.8" fill="#A8102E" stroke="#A8102E" stroke-width="0.1" font-style="italic" textLength="20.40" lengthAdjust="spacingAndGlyphs" >Cbfb</text>
<text x="320.80" y="527.40" font-size="6.6" fill="#A8102E" stroke="#A8102E" stroke-width="0.1" font-style="italic" textLength="19.80" lengthAdjust="spacingAndGlyphs" >+/56M</text>
<text x="298.80" y="548.50" font-size="9.8" fill="#6AAB45" stroke="#6AAB45" stroke-width="0.1" font-style="italic" textLength="22.60" lengthAdjust="spacingAndGlyphs" >Runx1</text>
<text x="321.60" y="544.60" font-size="6.6" fill="#6AAB45" stroke="#6AAB45" stroke-width="0.1" font-style="italic" textLength="7.00" lengthAdjust="spacingAndGlyphs" >f/f</text>
<text x="329.00" y="548.50" font-size="9.8" fill="#6AAB45" stroke="#6AAB45" stroke-width="0.1" font-style="italic" textLength="37.00" lengthAdjust="spacingAndGlyphs" >Mx1-Cre</text>
<text x="292.00" y="606.20" font-size="13.5" fill="#000" font-weight="bold" textLength="9.60" lengthAdjust="spacingAndGlyphs" >C</text>
<text x="354.30" y="617.80" font-size="11" fill="#2F4F8A" stroke="#2F4F8A" stroke-width="0.12" font-style="italic" textLength="37.70" lengthAdjust="spacingAndGlyphs" >Mx1-Cre</text>
<text x="350.40" y="628.80" font-size="11" fill="#2F4F8A" stroke="#2F4F8A" stroke-width="0.12" font-style="italic" textLength="21.80" lengthAdjust="spacingAndGlyphs" >Cbfb</text>
<text x="372.80" y="625.00" font-size="7.2" fill="#2F4F8A" stroke="#2F4F8A" stroke-width="0.12" font-style="italic" textLength="21.40" lengthAdjust="spacingAndGlyphs" >+/56M</text>
<text x="438.00" y="606.20" font-size="11" fill="#B0123F" stroke="#B0123F" stroke-width="0.12" font-style="italic" textLength="24.60" lengthAdjust="spacingAndGlyphs" >Runx1</text>
<text x="463.20" y="602.40" font-size="7.2" fill="#B0123F" stroke="#B0123F" stroke-width="0.12" font-style="italic" textLength="7.60" lengthAdjust="spacingAndGlyphs" >f/f</text>
<text x="438.00" y="617.70" font-size="11" fill="#B0123F" stroke="#B0123F" stroke-width="0.12" font-style="italic" textLength="37.00" lengthAdjust="spacingAndGlyphs" >Mx1-Cre</text>
<text x="438.00" y="628.60" font-size="11" fill="#B0123F" stroke="#B0123F" stroke-width="0.12" font-style="italic" textLength="21.60" lengthAdjust="spacingAndGlyphs" >Cbfb</text>
<text x="460.00" y="624.80" font-size="7.2" fill="#B0123F" stroke="#B0123F" stroke-width="0.12" font-style="italic" textLength="20.80" lengthAdjust="spacingAndGlyphs" >+/56M</text>
<text x="302.00" y="715.00" font-size="10" fill="#222" stroke="#222" stroke-width="0.28" textLength="40.00" lengthAdjust="spacingAndGlyphs" transform="rotate(-90 302.00 715.00)" >4-5 weeks</text>
<text x="314.60" y="715.30" font-size="10" fill="#222" stroke="#222" stroke-width="0.28" textLength="39.30" lengthAdjust="spacingAndGlyphs" transform="rotate(-90 314.60 715.30)" >after plpC</text>
<text x="302.00" y="800.00" font-size="10" fill="#222" stroke="#222" stroke-width="0.28" textLength="40.00" lengthAdjust="spacingAndGlyphs" transform="rotate(-90 302.00 800.00)" >4 months</text>
<text x="314.60" y="806.00" font-size="10" fill="#222" stroke="#222" stroke-width="0.28" textLength="45.00" lengthAdjust="spacingAndGlyphs" transform="rotate(-90 314.60 806.00)" >after plpC</text>
<text x="330.00" y="689.00" font-size="11" fill="#222" stroke="#222" stroke-width="0.28" textLength="36.50" lengthAdjust="spacingAndGlyphs" transform="rotate(-90 330.00 689.00)" >Fc&#947;RII/III</text>
<polyline points="327.10,698.00 327.10,828.40 473.00,828.40" fill="none" stroke="#000" stroke-width="1.3" />
<polygon points="327.10,692.80 330.40,701.30 327.10,699.17 323.80,701.30" fill="#000" />
<polygon points="478.50,828.40 470.00,825.10 472.12,828.40 470.00,831.70" fill="#000" />
<text x="482.60" y="832.00" font-size="11" fill="#222" stroke="#222" stroke-width="0.28" textLength="21.70" lengthAdjust="spacingAndGlyphs" >CD34</text>
<line x1="336.50" y1="635.60" x2="415.80" y2="635.60" stroke="#c4c4c4" stroke-width="0.8" />
<line x1="415.80" y1="635.60" x2="415.80" y2="718.80" stroke="#c4c4c4" stroke-width="0.8" />
<line x1="336.50" y1="635.60" x2="336.50" y2="718.80" stroke="#333" stroke-width="0.9" />
<line x1="336.50" y1="718.80" x2="415.80" y2="718.80" stroke="#333" stroke-width="0.9" />
<line x1="334.70" y1="642.26" x2="336.50" y2="642.26" stroke="#333" stroke-width="0.7" />
<line x1="334.70" y1="652.24" x2="336.50" y2="652.24" stroke="#333" stroke-width="0.7" />
<line x1="334.70" y1="663.06" x2="336.50" y2="663.06" stroke="#333" stroke-width="0.7" />
<line x1="334.70" y1="673.04" x2="336.50" y2="673.04" stroke="#333" stroke-width="0.7" />
<line x1="334.70" y1="683.86" x2="336.50" y2="683.86" stroke="#333" stroke-width="0.7" />
<line x1="334.70" y1="693.84" x2="336.50" y2="693.84" stroke="#333" stroke-width="0.7" />
<line x1="334.70" y1="703.82" x2="336.50" y2="703.82" stroke="#333" stroke-width="0.7" />
<line x1="334.70" y1="710.48" x2="336.50" y2="710.48" stroke="#333" stroke-width="0.7" />
<line x1="334.70" y1="714.64" x2="336.50" y2="714.64" stroke="#333" stroke-width="0.7" />
<line x1="340.46" y1="718.80" x2="340.46" y2="720.60" stroke="#333" stroke-width="0.7" />
<line x1="350.77" y1="718.80" x2="350.77" y2="720.60" stroke="#333" stroke-width="0.7" />
<line x1="364.25" y1="718.80" x2="364.25" y2="720.60" stroke="#333" stroke-width="0.7" />
<line x1="380.12" y1="718.80" x2="380.12" y2="720.60" stroke="#333" stroke-width="0.7" />
<line x1="393.60" y1="718.80" x2="393.60" y2="720.60" stroke="#333" stroke-width="0.7" />
<line x1="407.87" y1="718.80" x2="407.87" y2="720.60" stroke="#333" stroke-width="0.7" />
<line x1="431.00" y1="635.60" x2="509.80" y2="635.60" stroke="#c4c4c4" stroke-width="0.8" />
<line x1="509.80" y1="635.60" x2="509.80" y2="718.80" stroke="#c4c4c4" stroke-width="0.8" />
<line x1="431.00" y1="635.60" x2="431.00" y2="718.80" stroke="#333" stroke-width="0.9" />
<line x1="431.00" y1="718.80" x2="509.80" y2="718.80" stroke="#333" stroke-width="0.9" />
<line x1="429.20" y1="642.26" x2="431.00" y2="642.26" stroke="#333" stroke-width="0.7" />
<line x1="429.20" y1="652.24" x2="431.00" y2="652.24" stroke="#333" stroke-width="0.7" />
<line x1="429.20" y1="663.06" x2="431.00" y2="663.06" stroke="#333" stroke-width="0.7" />
<line x1="429.20" y1="673.04" x2="431.00" y2="673.04" stroke="#333" stroke-width="0.7" />
<line x1="429.20" y1="683.86" x2="431.00" y2="683.86" stroke="#333" stroke-width="0.7" />
<line x1="429.20" y1="693.84" x2="431.00" y2="693.84" stroke="#333" stroke-width="0.7" />
<line x1="429.20" y1="703.82" x2="431.00" y2="703.82" stroke="#333" stroke-width="0.7" />
<line x1="429.20" y1="710.48" x2="431.00" y2="710.48" stroke="#333" stroke-width="0.7" />
<line x1="429.20" y1="714.64" x2="431.00" y2="714.64" stroke="#333" stroke-width="0.7" />
<line x1="434.94" y1="718.80" x2="434.94" y2="720.60" stroke="#333" stroke-width="0.7" />
<line x1="445.18" y1="718.80" x2="445.18" y2="720.60" stroke="#333" stroke-width="0.7" />
<line x1="458.58" y1="718.80" x2="458.58" y2="720.60" stroke="#333" stroke-width="0.7" />
<line x1="474.34" y1="718.80" x2="474.34" y2="720.60" stroke="#333" stroke-width="0.7" />
<line x1="487.74" y1="718.80" x2="487.74" y2="720.60" stroke="#333" stroke-width="0.7" />
<line x1="501.92" y1="718.80" x2="501.92" y2="720.60" stroke="#333" stroke-width="0.7" />
<line x1="336.00" y1="733.30" x2="415.80" y2="733.30" stroke="#c4c4c4" stroke-width="0.8" />
<line x1="415.80" y1="733.30" x2="415.80" y2="815.80" stroke="#c4c4c4" stroke-width="0.8" />
<line x1="336.00" y1="733.30" x2="336.00" y2="815.80" stroke="#333" stroke-width="0.9" />
<line x1="336.00" y1="815.80" x2="415.80" y2="815.80" stroke="#333" stroke-width="0.9" />
<line x1="334.20" y1="739.90" x2="336.00" y2="739.90" stroke="#333" stroke-width="0.7" />
<line x1="334.20" y1="749.80" x2="336.00" y2="749.80" stroke="#333" stroke-width="0.7" />
<line x1="334.20" y1="760.52" x2="336.00" y2="760.52" stroke="#333" stroke-width="0.7" />
<line x1="334.20" y1="770.42" x2="336.00" y2="770.42" stroke="#333" stroke-width="0.7" />
<line x1="334.20" y1="781.15" x2="336.00" y2="781.15" stroke="#333" stroke-width="0.7" />
<line x1="334.20" y1="791.05" x2="336.00" y2="791.05" stroke="#333" stroke-width="0.7" />
<line x1="334.20" y1="800.95" x2="336.00" y2="800.95" stroke="#333" stroke-width="0.7" />
<line x1="334.20" y1="807.55" x2="336.00" y2="807.55" stroke="#333" stroke-width="0.7" />
<line x1="334.20" y1="811.67" x2="336.00" y2="811.67" stroke="#333" stroke-width="0.7" />
<line x1="339.99" y1="815.80" x2="339.99" y2="817.60" stroke="#333" stroke-width="0.7" />
<line x1="350.36" y1="815.80" x2="350.36" y2="817.60" stroke="#333" stroke-width="0.7" />
<line x1="363.93" y1="815.80" x2="363.93" y2="817.60" stroke="#333" stroke-width="0.7" />
<line x1="379.89" y1="815.80" x2="379.89" y2="817.60" stroke="#333" stroke-width="0.7" />
<line x1="393.46" y1="815.80" x2="393.46" y2="817.60" stroke="#333" stroke-width="0.7" />
<line x1="407.82" y1="815.80" x2="407.82" y2="817.60" stroke="#333" stroke-width="0.7" />
<line x1="431.00" y1="733.30" x2="509.80" y2="733.30" stroke="#c4c4c4" stroke-width="0.8" />
<line x1="509.80" y1="733.30" x2="509.80" y2="815.80" stroke="#c4c4c4" stroke-width="0.8" />
<line x1="431.00" y1="733.30" x2="431.00" y2="815.80" stroke="#333" stroke-width="0.9" />
<line x1="431.00" y1="815.80" x2="509.80" y2="815.80" stroke="#333" stroke-width="0.9" />
<line x1="429.20" y1="739.90" x2="431.00" y2="739.90" stroke="#333" stroke-width="0.7" />
<line x1="429.20" y1="749.80" x2="431.00" y2="749.80" stroke="#333" stroke-width="0.7" />
<line x1="429.20" y1="760.52" x2="431.00" y2="760.52" stroke="#333" stroke-width="0.7" />
<line x1="429.20" y1="770.42" x2="431.00" y2="770.42" stroke="#333" stroke-width="0.7" />
<line x1="429.20" y1="781.15" x2="431.00" y2="781.15" stroke="#333" stroke-width="0.7" />
<line x1="429.20" y1="791.05" x2="431.00" y2="791.05" stroke="#333" stroke-width="0.7" />
<line x1="429.20" y1="800.95" x2="431.00" y2="800.95" stroke="#333" stroke-width="0.7" />
<line x1="429.20" y1="807.55" x2="431.00" y2="807.55" stroke="#333" stroke-width="0.7" />
<line x1="429.20" y1="811.67" x2="431.00" y2="811.67" stroke="#333" stroke-width="0.7" />
<line x1="434.94" y1="815.80" x2="434.94" y2="817.60" stroke="#333" stroke-width="0.7" />
<line x1="445.18" y1="815.80" x2="445.18" y2="817.60" stroke="#333" stroke-width="0.7" />
<line x1="458.58" y1="815.80" x2="458.58" y2="817.60" stroke="#333" stroke-width="0.7" />
<line x1="474.34" y1="815.80" x2="474.34" y2="817.60" stroke="#333" stroke-width="0.7" />
<line x1="487.74" y1="815.80" x2="487.74" y2="817.60" stroke="#333" stroke-width="0.7" />
<line x1="501.92" y1="815.80" x2="501.92" y2="817.60" stroke="#333" stroke-width="0.7" />
<rect x="336.50" y="640.80" width="33.10" height="35.50" fill="none" stroke="#1a1a1a" stroke-width="1.0" />
<line x1="336.50" y1="676.30" x2="369.60" y2="676.30" stroke="#1a1a1a" stroke-width="1.5" />
<rect x="370.80" y="640.80" width="33.80" height="26.50" fill="none" stroke="#1a1a1a" stroke-width="1.0" />
<line x1="370.80" y1="667.30" x2="404.60" y2="667.30" stroke="#1a1a1a" stroke-width="1.5" />
<rect x="370.80" y="667.30" width="28.60" height="26.20" fill="none" stroke="#1a1a1a" stroke-width="1.0" />
<line x1="369.60" y1="676.30" x2="369.60" y2="718.80" stroke="#1a1a1a" stroke-width="1.0" />
<rect x="337.00" y="642.82" width="14.81" height="6.54" fill="#fff" stroke="none" stroke-width="1" />
<text x="337.60" y="648.60" font-size="7.6" fill="#222" stroke="#222" stroke-width="0.1" textLength="13.61" lengthAdjust="spacingAndGlyphs" >24.7</text>
<rect x="389.29" y="642.82" width="14.81" height="6.54" fill="#fff" stroke="none" stroke-width="1" />
<text x="403.50" y="648.60" font-size="7.6" fill="#222" stroke="#222" stroke-width="0.1" text-anchor="end" textLength="13.61" lengthAdjust="spacingAndGlyphs" >31.9</text>
<rect x="386.42" y="685.82" width="8.98" height="6.54" fill="#fff" stroke="none" stroke-width="1" />
<text x="394.80" y="691.60" font-size="7.6" fill="#222" stroke="#222" stroke-width="0.1" text-anchor="end" textLength="7.78" lengthAdjust="spacingAndGlyphs" >27</text>
<rect x="337.40" y="712.52" width="14.81" height="6.54" fill="#fff" stroke="none" stroke-width="1" />
<text x="338.00" y="718.30" font-size="7.6" fill="#222" stroke="#222" stroke-width="0.1" textLength="13.61" lengthAdjust="spacingAndGlyphs" >9.79</text>
<rect x="431.00" y="641.20" width="33.00" height="35.10" fill="none" stroke="#1a1a1a" stroke-width="1.0" />
<line x1="431.00" y1="676.30" x2="464.00" y2="676.30" stroke="#1a1a1a" stroke-width="1.5" />
<rect x="465.30" y="641.20" width="34.30" height="26.10" fill="none" stroke="#1a1a1a" stroke-width="1.0" />
<line x1="465.30" y1="667.30" x2="499.60" y2="667.30" stroke="#1a1a1a" stroke-width="1.5" />
<polyline points="465.30,667.30 494.20,667.30 494.20,693.20 465.30,693.20" fill="none" stroke="#1a1a1a" stroke-width="1.0" />
<line x1="464.00" y1="676.30" x2="464.00" y2="718.80" stroke="#1a1a1a" stroke-width="1.0" />
<rect x="431.60" y="642.82" width="14.81" height="6.54" fill="#fff" stroke="none" stroke-width="1" />
<text x="432.20" y="648.60" font-size="7.6" fill="#222" stroke="#222" stroke-width="0.1" textLength="13.61" lengthAdjust="spacingAndGlyphs" >10.9</text>
<rect x="482.79" y="642.82" width="14.81" height="6.54" fill="#fff" stroke="none" stroke-width="1" />
<text x="497.00" y="648.60" font-size="7.6" fill="#222" stroke="#222" stroke-width="0.1" text-anchor="end" textLength="13.61" lengthAdjust="spacingAndGlyphs" >40.2</text>
<rect x="480.49" y="685.82" width="14.81" height="6.54" fill="#fff" stroke="none" stroke-width="1" />
<text x="494.70" y="691.60" font-size="7.6" fill="#222" stroke="#222" stroke-width="0.1" text-anchor="end" textLength="13.61" lengthAdjust="spacingAndGlyphs" >18.2</text>
<rect x="432.00" y="712.52" width="14.81" height="6.54" fill="#fff" stroke="none" stroke-width="1" />
<text x="432.60" y="718.30" font-size="7.6" fill="#222" stroke="#222" stroke-width="0.1" textLength="13.61" lengthAdjust="spacingAndGlyphs" >24.9</text>
<polyline points="343.60,815.80 343.60,746.30 409.00,746.30 409.00,761.90" fill="none" stroke="#1a1a1a" stroke-width="1.0" />
<line x1="373.90" y1="746.30" x2="373.90" y2="815.80" stroke="#1a1a1a" stroke-width="1.5" />
<line x1="343.60" y1="781.80" x2="373.90" y2="781.80" stroke="#1a1a1a" stroke-width="1.6" />
<polyline points="373.90,771.70 399.20,771.70 399.20,791.30 373.90,791.30" fill="none" stroke="#1a1a1a" stroke-width="1.0" />
<line x1="373.90" y1="771.70" x2="395.20" y2="771.70" stroke="#1a1a1a" stroke-width="1.6" />
<rect x="337.00" y="752.42" width="14.81" height="6.54" fill="#fff" stroke="none" stroke-width="1" />
<text x="337.60" y="758.20" font-size="7.6" fill="#222" stroke="#222" stroke-width="0.1" textLength="13.61" lengthAdjust="spacingAndGlyphs" >31.1</text>
<rect x="399.79" y="765.22" width="14.81" height="6.54" fill="#fff" stroke="none" stroke-width="1" />
<text x="414.00" y="771.00" font-size="7.6" fill="#222" stroke="#222" stroke-width="0.1" text-anchor="end" textLength="13.61" lengthAdjust="spacingAndGlyphs" >25.8</text>
<rect x="390.48" y="784.72" width="10.92" height="6.54" fill="#fff" stroke="none" stroke-width="1" />
<text x="400.80" y="790.50" font-size="7.6" fill="#222" stroke="#222" stroke-width="0.1" text-anchor="end" textLength="9.72" lengthAdjust="spacingAndGlyphs" >7.3</text>
<rect x="355.01" y="810.02" width="8.98" height="6.54" fill="#fff" stroke="none" stroke-width="1" />
<text x="359.50" y="815.80" font-size="7.6" fill="#222" stroke="#222" stroke-width="0.1" text-anchor="middle" textLength="7.78" lengthAdjust="spacingAndGlyphs" >29</text>
<polyline points="438.60,815.80 438.60,746.30 503.50,746.30 503.50,761.90" fill="none" stroke="#1a1a1a" stroke-width="1.0" />
<line x1="468.50" y1="746.30" x2="468.50" y2="815.80" stroke="#1a1a1a" stroke-width="1.5" />
<line x1="438.60" y1="781.80" x2="468.50" y2="781.80" stroke="#1a1a1a" stroke-width="1.6" />
<polyline points="468.50,771.70 494.20,771.70 494.20,791.30 468.50,791.30" fill="none" stroke="#1a1a1a" stroke-width="1.0" />
<line x1="468.50" y1="771.70" x2="490.20" y2="771.70" stroke="#1a1a1a" stroke-width="1.6" />
<rect x="432.00" y="752.42" width="14.81" height="6.54" fill="#fff" stroke="none" stroke-width="1" />
<text x="432.60" y="758.20" font-size="7.6" fill="#222" stroke="#222" stroke-width="0.1" textLength="13.61" lengthAdjust="spacingAndGlyphs" >14.1</text>
<rect x="494.19" y="765.22" width="14.81" height="6.54" fill="#fff" stroke="none" stroke-width="1" />
<text x="508.40" y="771.00" font-size="7.6" fill="#222" stroke="#222" stroke-width="0.1" text-anchor="end" textLength="13.61" lengthAdjust="spacingAndGlyphs" >50.2</text>
<rect x="485.79" y="784.72" width="14.81" height="6.54" fill="#fff" stroke="none" stroke-width="1" />
<text x="500.00" y="790.50" font-size="7.6" fill="#222" stroke="#222" stroke-width="0.1" text-anchor="end" textLength="13.61" lengthAdjust="spacingAndGlyphs" >4.84</text>
<rect x="446.40" y="810.02" width="14.81" height="6.54" fill="#fff" stroke="none" stroke-width="1" />
<text x="453.80" y="815.80" font-size="7.6" fill="#222" stroke="#222" stroke-width="0.1" text-anchor="middle" textLength="13.61" lengthAdjust="spacingAndGlyphs" >26.3</text>
<text x="8.70" y="657.40" font-size="13.5" fill="#000" font-weight="bold" textLength="9.60" lengthAdjust="spacingAndGlyphs" >D</text>
<line x1="42.20" y1="667.70" x2="42.20" y2="801.80" stroke="#1a1a1a" stroke-width="1.3" />
<line x1="41.60" y1="801.20" x2="273.00" y2="801.20" stroke="#1a1a1a" stroke-width="1.3" />
<line x1="38.60" y1="801.20" x2="42.20" y2="801.20" stroke="#1a1a1a" stroke-width="1.1" />
<text x="35.20" y="804.50" font-size="9.6" fill="#222" stroke="#222" stroke-width="0.28" text-anchor="end" >0</text>
<line x1="38.60" y1="775.12" x2="42.20" y2="775.12" stroke="#1a1a1a" stroke-width="1.1" />
<text x="35.20" y="778.42" font-size="9.6" fill="#222" stroke="#222" stroke-width="0.28" text-anchor="end" >5</text>
<line x1="38.60" y1="749.04" x2="42.20" y2="749.04" stroke="#1a1a1a" stroke-width="1.1" />
<text x="35.20" y="752.34" font-size="9.6" fill="#222" stroke="#222" stroke-width="0.28" text-anchor="end" >10</text>
<line x1="38.60" y1="722.96" x2="42.20" y2="722.96" stroke="#1a1a1a" stroke-width="1.1" />
<text x="35.20" y="726.26" font-size="9.6" fill="#222" stroke="#222" stroke-width="0.28" text-anchor="end" >15</text>
<line x1="38.60" y1="696.88" x2="42.20" y2="696.88" stroke="#1a1a1a" stroke-width="1.1" />
<text x="35.20" y="700.18" font-size="9.6" fill="#222" stroke="#222" stroke-width="0.28" text-anchor="end" >20</text>
<line x1="38.60" y1="670.80" x2="42.20" y2="670.80" stroke="#1a1a1a" stroke-width="1.1" />
<text x="35.20" y="674.10" font-size="9.6" fill="#222" stroke="#222" stroke-width="0.28" text-anchor="end" >25</text>
<line x1="80.20" y1="801.20" x2="80.20" y2="805.00" stroke="#1a1a1a" stroke-width="1.1" />
<line x1="156.00" y1="801.20" x2="156.00" y2="805.00" stroke="#1a1a1a" stroke-width="1.1" />
<line x1="233.30" y1="801.20" x2="233.30" y2="805.00" stroke="#1a1a1a" stroke-width="1.1" />
<text x="17.90" y="775.00" font-size="10" fill="#222" stroke="#222" stroke-width="0.28" textLength="83.00" lengthAdjust="spacingAndGlyphs" transform="rotate(-90 17.90 775.00)" >AMP Percentage (%)</text>
<rect x="56.20" y="793.40" width="19.40" height="7.80" fill="#2B4A8B" stroke="none" stroke-width="1" />
<line x1="65.90" y1="793.40" x2="65.90" y2="791.60" stroke="#333" stroke-width="1.1" />
<line x1="62.10" y1="791.60" x2="69.70" y2="791.60" stroke="#333" stroke-width="1.3" />
<rect x="85.00" y="784.00" width="18.80" height="17.20" fill="#A8102E" stroke="none" stroke-width="1" />
<line x1="94.40" y1="784.00" x2="94.40" y2="781.00" stroke="#333" stroke-width="1.1" />
<line x1="90.60" y1="781.00" x2="98.20" y2="781.00" stroke="#333" stroke-width="1.3" />
<rect x="133.60" y="776.50" width="18.40" height="24.70" fill="#2B4A8B" stroke="none" stroke-width="1" />
<line x1="142.80" y1="776.50" x2="142.80" y2="770.50" stroke="#333" stroke-width="1.1" />
<line x1="139.00" y1="770.50" x2="146.60" y2="770.50" stroke="#333" stroke-width="1.3" />
<rect x="162.30" y="796.00" width="18.30" height="5.20" fill="#A8102E" stroke="none" stroke-width="1" />
<line x1="171.45" y1="796.00" x2="171.45" y2="794.60" stroke="#333" stroke-width="1.1" />
<line x1="167.65" y1="794.60" x2="175.25" y2="794.60" stroke="#333" stroke-width="1.3" />
<rect x="210.20" y="728.60" width="18.40" height="72.60" fill="#2B4A8B" stroke="none" stroke-width="1" />
<line x1="219.40" y1="728.60" x2="219.40" y2="702.50" stroke="#333" stroke-width="1.1" />
<line x1="215.60" y1="702.50" x2="223.20" y2="702.50" stroke="#333" stroke-width="1.3" />
<rect x="239.20" y="797.80" width="19.00" height="3.40" fill="#A8102E" stroke="none" stroke-width="1" />
<line x1="248.70" y1="797.80" x2="248.70" y2="796.00" stroke="#333" stroke-width="1.1" />
<line x1="244.90" y1="796.00" x2="252.50" y2="796.00" stroke="#333" stroke-width="1.3" />
<polyline points="93.70,675.20 93.70,671.70 247.00,671.70 247.00,688.60" fill="none" stroke="#333" stroke-width="1.1" stroke-linejoin="round"/>
<text x="170.40" y="671.70" font-size="9" fill="#222" stroke="#222" stroke-width="0.28" text-anchor="middle" textLength="7.60" lengthAdjust="spacingAndGlyphs" >**</text>
<polyline points="67.00,707.00 67.00,689.00 220.00,689.00 220.00,692.30" fill="none" stroke="#333" stroke-width="1.1" stroke-linejoin="round"/>
<text x="143.50" y="688.90" font-size="9" fill="#222" stroke="#222" stroke-width="0.28" text-anchor="middle" textLength="11.40" lengthAdjust="spacingAndGlyphs" >***</text>
<polyline points="220.00,698.50 220.00,696.00 247.00,696.00 247.00,704.00" fill="none" stroke="#333" stroke-width="1.1" stroke-linejoin="round"/>
<text x="233.80" y="695.30" font-size="9" fill="#222" stroke="#222" stroke-width="0.28" text-anchor="middle" >*</text>
<polyline points="93.70,739.50 93.70,736.50 171.40,736.50 171.40,748.30" fill="none" stroke="#333" stroke-width="1.1" stroke-linejoin="round"/>
<text x="133.00" y="736.30" font-size="9" fill="#222" stroke="#222" stroke-width="0.28" text-anchor="middle" >*</text>
<polyline points="65.80,763.00 65.80,753.00 144.40,753.00 144.40,756.70" fill="none" stroke="#333" stroke-width="1.1" stroke-linejoin="round"/>
<text x="105.20" y="753.10" font-size="9" fill="#222" stroke="#222" stroke-width="0.28" text-anchor="middle" textLength="11.40" lengthAdjust="spacingAndGlyphs" >***</text>
<polyline points="143.30,766.00 143.30,761.80 170.30,761.80 170.30,770.50" fill="none" stroke="#333" stroke-width="1.1" stroke-linejoin="round"/>
<text x="156.40" y="761.10" font-size="9" fill="#222" stroke="#222" stroke-width="0.28" text-anchor="middle" >*</text>
<polyline points="65.80,779.00 65.80,771.20 95.20,771.20 95.20,774.00" fill="none" stroke="#333" stroke-width="1.1" stroke-linejoin="round"/>
<text x="80.70" y="771.50" font-size="9" fill="#222" stroke="#222" stroke-width="0.28" text-anchor="middle" textLength="7.00" lengthAdjust="spacingAndGlyphs" >**</text>
<text x="80.00" y="817.20" font-size="10" fill="#222" stroke="#222" stroke-width="0.28" text-anchor="middle" >2-3</text>
<text x="80.00" y="828.20" font-size="10" fill="#222" stroke="#222" stroke-width="0.28" text-anchor="middle" >weeks</text>
<text x="157.10" y="817.20" font-size="10" fill="#222" stroke="#222" stroke-width="0.28" text-anchor="middle" >4-5</text>
<text x="157.10" y="828.20" font-size="10" fill="#222" stroke="#222" stroke-width="0.28" text-anchor="middle" >weeks</text>
<text x="233.20" y="817.20" font-size="10" fill="#222" stroke="#222" stroke-width="0.28" text-anchor="middle" >4</text>
<text x="233.20" y="828.20" font-size="10" fill="#222" stroke="#222" stroke-width="0.28" text-anchor="middle" >months</text>
<line x1="0.00" y1="0.80" x2="520.00" y2="0.80" stroke="#000" stroke-width="1.6" />
<line x1="0.75" y1="0.00" x2="0.75" y2="840.00" stroke="#000" stroke-width="1.5" />
<line x1="519.25" y1="0.00" x2="519.25" y2="840.00" stroke="#000" stroke-width="1.5" />
<line x1="0.00" y1="839.25" x2="520.00" y2="839.25" stroke="#000" stroke-width="1.5" />
</svg>
</body></html>
